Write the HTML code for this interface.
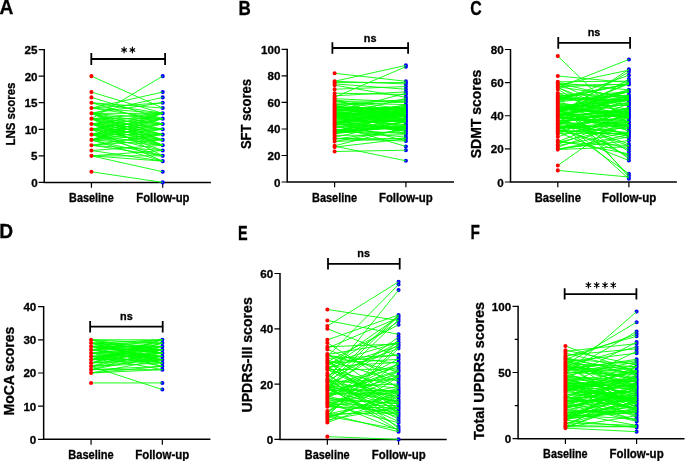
<!DOCTYPE html><html><head><meta charset="utf-8"><style>html,body{margin:0;padding:0;background:#fff;width:685px;height:461px;overflow:hidden}svg{display:block;will-change:transform}text{font-family:'Liberation Sans', sans-serif;font-weight:bold;fill:#000;stroke:#000;stroke-width:0.3px}</style></head><body>
<svg width="685" height="461" viewBox="0 0 685 461">
<path d="M44.26 49.0V182.4H210.9" stroke="#000" stroke-width="1.5" fill="none"/>
<path d="M38.66 182.40H44.26M38.66 155.84H44.26M38.66 129.28H44.26M38.66 102.72H44.26M38.66 76.16H44.26M38.66 49.60H44.26M91.44 182.4V187.70000000000002M162.72 182.4V187.70000000000002" stroke="#000" stroke-width="1.2" fill="none"/>
<path d="M160.67 182.40a2.05 2.05 0 1 0 4.1 0a2.05 2.05 0 1 0 -4.1 0M160.67 171.78a2.05 2.05 0 1 0 4.1 0a2.05 2.05 0 1 0 -4.1 0M160.67 161.15a2.05 2.05 0 1 0 4.1 0a2.05 2.05 0 1 0 -4.1 0M160.67 155.84a2.05 2.05 0 1 0 4.1 0a2.05 2.05 0 1 0 -4.1 0M160.67 150.53a2.05 2.05 0 1 0 4.1 0a2.05 2.05 0 1 0 -4.1 0M160.67 145.22a2.05 2.05 0 1 0 4.1 0a2.05 2.05 0 1 0 -4.1 0M160.67 139.90a2.05 2.05 0 1 0 4.1 0a2.05 2.05 0 1 0 -4.1 0M160.67 134.59a2.05 2.05 0 1 0 4.1 0a2.05 2.05 0 1 0 -4.1 0M160.67 129.28a2.05 2.05 0 1 0 4.1 0a2.05 2.05 0 1 0 -4.1 0M160.67 123.97a2.05 2.05 0 1 0 4.1 0a2.05 2.05 0 1 0 -4.1 0M160.67 118.66a2.05 2.05 0 1 0 4.1 0a2.05 2.05 0 1 0 -4.1 0M160.67 113.34a2.05 2.05 0 1 0 4.1 0a2.05 2.05 0 1 0 -4.1 0M160.67 108.03a2.05 2.05 0 1 0 4.1 0a2.05 2.05 0 1 0 -4.1 0M160.67 102.72a2.05 2.05 0 1 0 4.1 0a2.05 2.05 0 1 0 -4.1 0M160.67 97.41a2.05 2.05 0 1 0 4.1 0a2.05 2.05 0 1 0 -4.1 0M160.67 92.10a2.05 2.05 0 1 0 4.1 0a2.05 2.05 0 1 0 -4.1 0M160.67 76.16a2.05 2.05 0 1 0 4.1 0a2.05 2.05 0 1 0 -4.1 0" fill="#0000ff"/>
<path d="M91.4 139.90L162.7 145.22M91.4 139.90L162.7 139.90M91.4 139.90L162.7 134.59M91.4 139.90L162.7 129.28M91.4 139.90L162.7 123.97M91.4 139.90L162.7 118.66M91.4 139.90L162.7 113.34M91.4 134.59L162.7 145.22M91.4 134.59L162.7 139.90M91.4 134.59L162.7 134.59M91.4 134.59L162.7 129.28M91.4 134.59L162.7 123.97M91.4 134.59L162.7 118.66M91.4 134.59L162.7 113.34M91.4 129.28L162.7 145.22M91.4 129.28L162.7 139.90M91.4 129.28L162.7 134.59M91.4 129.28L162.7 129.28M91.4 129.28L162.7 123.97M91.4 129.28L162.7 118.66M91.4 129.28L162.7 113.34M91.4 123.97L162.7 145.22M91.4 123.97L162.7 139.90M91.4 123.97L162.7 134.59M91.4 123.97L162.7 129.28M91.4 123.97L162.7 123.97M91.4 123.97L162.7 118.66M91.4 123.97L162.7 113.34M91.4 118.66L162.7 145.22M91.4 118.66L162.7 139.90M91.4 118.66L162.7 134.59M91.4 118.66L162.7 129.28M91.4 118.66L162.7 123.97M91.4 118.66L162.7 118.66M91.4 118.66L162.7 113.34M91.4 113.34L162.7 145.22M91.4 113.34L162.7 139.90M91.4 113.34L162.7 134.59M91.4 113.34L162.7 129.28M91.4 113.34L162.7 123.97M91.4 113.34L162.7 118.66M91.4 113.34L162.7 113.34M91.4 76.16L162.7 108.03M91.4 118.66L162.7 76.16M91.4 92.10L162.7 113.34M91.4 97.41L162.7 118.66M91.4 102.72L162.7 108.03M91.4 102.72L162.7 113.34M91.4 108.03L162.7 92.10M91.4 113.34L162.7 97.41M91.4 108.03L162.7 102.72M91.4 113.34L162.7 102.72M91.4 108.03L162.7 118.66M91.4 108.03L162.7 113.34M91.4 102.72L162.7 123.97M91.4 118.66L162.7 155.84M91.4 123.97L162.7 150.53M91.4 129.28L162.7 161.15M91.4 134.59L162.7 155.84M91.4 139.90L162.7 155.84M91.4 145.22L162.7 150.53M91.4 145.22L162.7 155.84M91.4 145.22L162.7 139.90M91.4 145.22L162.7 134.59M91.4 150.53L162.7 145.22M91.4 150.53L162.7 161.15M91.4 155.84L162.7 161.15M91.4 155.84L162.7 155.84M91.4 155.84L162.7 150.53M91.4 155.84L162.7 171.78M91.4 171.78L162.7 182.40M91.4 134.59L162.7 150.53M91.4 139.90L162.7 161.15" stroke="#00ff00" stroke-width="0.9" fill="none"/>
<path d="M89.39 171.78a2.05 2.05 0 1 0 4.1 0a2.05 2.05 0 1 0 -4.1 0M89.39 155.84a2.05 2.05 0 1 0 4.1 0a2.05 2.05 0 1 0 -4.1 0M89.39 150.53a2.05 2.05 0 1 0 4.1 0a2.05 2.05 0 1 0 -4.1 0M89.39 145.22a2.05 2.05 0 1 0 4.1 0a2.05 2.05 0 1 0 -4.1 0M89.39 139.90a2.05 2.05 0 1 0 4.1 0a2.05 2.05 0 1 0 -4.1 0M89.39 134.59a2.05 2.05 0 1 0 4.1 0a2.05 2.05 0 1 0 -4.1 0M89.39 129.28a2.05 2.05 0 1 0 4.1 0a2.05 2.05 0 1 0 -4.1 0M89.39 123.97a2.05 2.05 0 1 0 4.1 0a2.05 2.05 0 1 0 -4.1 0M89.39 118.66a2.05 2.05 0 1 0 4.1 0a2.05 2.05 0 1 0 -4.1 0M89.39 113.34a2.05 2.05 0 1 0 4.1 0a2.05 2.05 0 1 0 -4.1 0M89.39 108.03a2.05 2.05 0 1 0 4.1 0a2.05 2.05 0 1 0 -4.1 0M89.39 102.72a2.05 2.05 0 1 0 4.1 0a2.05 2.05 0 1 0 -4.1 0M89.39 97.41a2.05 2.05 0 1 0 4.1 0a2.05 2.05 0 1 0 -4.1 0M89.39 92.10a2.05 2.05 0 1 0 4.1 0a2.05 2.05 0 1 0 -4.1 0M89.39 76.16a2.05 2.05 0 1 0 4.1 0a2.05 2.05 0 1 0 -4.1 0" fill="#ff0000"/>
<text x="31.13" y="186.90" font-size="11.6">0</text>
<text x="30.98" y="160.34" font-size="11.6">5</text>
<text x="24.68" y="133.78" font-size="11.6">10</text>
<text x="24.53" y="107.22" font-size="11.6">15</text>
<text x="24.68" y="80.66" font-size="11.6">20</text>
<text x="24.53" y="54.10" font-size="11.6">25</text>
<text x="69.07" y="201.90" font-size="12.00" textLength="44.60" lengthAdjust="spacingAndGlyphs">Baseline</text>
<text x="136.25" y="201.90" font-size="12.00" textLength="53.22" lengthAdjust="spacingAndGlyphs">Follow-up</text>
<path d="M91.3 59.0H165.1M91.3 53.1V64.9M165.1 53.1V64.9" stroke="#000" stroke-width="1.8" fill="none"/>
<path d="M124.10 52.85L124.10 47.15M121.83 51.31L126.37 48.69M126.37 51.31L121.83 48.69M132.40 52.85L132.40 47.15M130.13 51.31L134.67 48.69M134.67 51.31L130.13 48.69" stroke="#000" stroke-width="1.15" stroke-linecap="round" fill="none"/>
<path d="M122.90 50.0a1.2 1.2 0 1 0 2.4 0a1.2 1.2 0 1 0 -2.4 0M131.20 50.0a1.2 1.2 0 1 0 2.4 0a1.2 1.2 0 1 0 -2.4 0" fill="#000"/>
<text transform="translate(15.10 145.57) rotate(-90)" x="0" y="0" font-size="13.08" textLength="63.04" lengthAdjust="spacingAndGlyphs">LNS scores</text>
<text x="-0.48" y="14.00" font-size="20.60" textLength="13.89" lengthAdjust="spacingAndGlyphs">A</text>
<path d="M287.2 48.85V182.0H454" stroke="#000" stroke-width="1.5" fill="none"/>
<path d="M281.59999999999997 182.00H287.2M281.59999999999997 155.49H287.2M281.59999999999997 128.98H287.2M281.59999999999997 102.47H287.2M281.59999999999997 75.96H287.2M281.59999999999997 49.45H287.2M334.6 182.0V187.3M405.9 182.0V187.3" stroke="#000" stroke-width="1.2" fill="none"/>
<path d="M403.85 160.79a2.05 2.05 0 1 0 4.1 0a2.05 2.05 0 1 0 -4.1 0M403.85 150.19a2.05 2.05 0 1 0 4.1 0a2.05 2.05 0 1 0 -4.1 0M403.85 146.44a2.05 2.05 0 1 0 4.1 0a2.05 2.05 0 1 0 -4.1 0M403.85 141.05a2.05 2.05 0 1 0 4.1 0a2.05 2.05 0 1 0 -4.1 0M403.85 140.98a2.05 2.05 0 1 0 4.1 0a2.05 2.05 0 1 0 -4.1 0M403.85 138.84a2.05 2.05 0 1 0 4.1 0a2.05 2.05 0 1 0 -4.1 0M403.85 138.74a2.05 2.05 0 1 0 4.1 0a2.05 2.05 0 1 0 -4.1 0M403.85 138.08a2.05 2.05 0 1 0 4.1 0a2.05 2.05 0 1 0 -4.1 0M403.85 137.14a2.05 2.05 0 1 0 4.1 0a2.05 2.05 0 1 0 -4.1 0M403.85 134.80a2.05 2.05 0 1 0 4.1 0a2.05 2.05 0 1 0 -4.1 0M403.85 133.71a2.05 2.05 0 1 0 4.1 0a2.05 2.05 0 1 0 -4.1 0M403.85 133.49a2.05 2.05 0 1 0 4.1 0a2.05 2.05 0 1 0 -4.1 0M403.85 132.78a2.05 2.05 0 1 0 4.1 0a2.05 2.05 0 1 0 -4.1 0M403.85 131.66a2.05 2.05 0 1 0 4.1 0a2.05 2.05 0 1 0 -4.1 0M403.85 131.31a2.05 2.05 0 1 0 4.1 0a2.05 2.05 0 1 0 -4.1 0M403.85 129.91a2.05 2.05 0 1 0 4.1 0a2.05 2.05 0 1 0 -4.1 0M403.85 129.61a2.05 2.05 0 1 0 4.1 0a2.05 2.05 0 1 0 -4.1 0M403.85 129.51a2.05 2.05 0 1 0 4.1 0a2.05 2.05 0 1 0 -4.1 0M403.85 129.49a2.05 2.05 0 1 0 4.1 0a2.05 2.05 0 1 0 -4.1 0M403.85 129.07a2.05 2.05 0 1 0 4.1 0a2.05 2.05 0 1 0 -4.1 0M403.85 128.88a2.05 2.05 0 1 0 4.1 0a2.05 2.05 0 1 0 -4.1 0M403.85 128.05a2.05 2.05 0 1 0 4.1 0a2.05 2.05 0 1 0 -4.1 0M403.85 127.97a2.05 2.05 0 1 0 4.1 0a2.05 2.05 0 1 0 -4.1 0M403.85 127.97a2.05 2.05 0 1 0 4.1 0a2.05 2.05 0 1 0 -4.1 0M403.85 127.18a2.05 2.05 0 1 0 4.1 0a2.05 2.05 0 1 0 -4.1 0M403.85 127.07a2.05 2.05 0 1 0 4.1 0a2.05 2.05 0 1 0 -4.1 0M403.85 126.95a2.05 2.05 0 1 0 4.1 0a2.05 2.05 0 1 0 -4.1 0M403.85 126.94a2.05 2.05 0 1 0 4.1 0a2.05 2.05 0 1 0 -4.1 0M403.85 126.45a2.05 2.05 0 1 0 4.1 0a2.05 2.05 0 1 0 -4.1 0M403.85 126.33a2.05 2.05 0 1 0 4.1 0a2.05 2.05 0 1 0 -4.1 0M403.85 125.59a2.05 2.05 0 1 0 4.1 0a2.05 2.05 0 1 0 -4.1 0M403.85 125.30a2.05 2.05 0 1 0 4.1 0a2.05 2.05 0 1 0 -4.1 0M403.85 124.76a2.05 2.05 0 1 0 4.1 0a2.05 2.05 0 1 0 -4.1 0M403.85 123.12a2.05 2.05 0 1 0 4.1 0a2.05 2.05 0 1 0 -4.1 0M403.85 121.91a2.05 2.05 0 1 0 4.1 0a2.05 2.05 0 1 0 -4.1 0M403.85 121.88a2.05 2.05 0 1 0 4.1 0a2.05 2.05 0 1 0 -4.1 0M403.85 121.88a2.05 2.05 0 1 0 4.1 0a2.05 2.05 0 1 0 -4.1 0M403.85 121.55a2.05 2.05 0 1 0 4.1 0a2.05 2.05 0 1 0 -4.1 0M403.85 121.35a2.05 2.05 0 1 0 4.1 0a2.05 2.05 0 1 0 -4.1 0M403.85 121.35a2.05 2.05 0 1 0 4.1 0a2.05 2.05 0 1 0 -4.1 0M403.85 121.25a2.05 2.05 0 1 0 4.1 0a2.05 2.05 0 1 0 -4.1 0M403.85 121.16a2.05 2.05 0 1 0 4.1 0a2.05 2.05 0 1 0 -4.1 0M403.85 120.74a2.05 2.05 0 1 0 4.1 0a2.05 2.05 0 1 0 -4.1 0M403.85 120.68a2.05 2.05 0 1 0 4.1 0a2.05 2.05 0 1 0 -4.1 0M403.85 120.64a2.05 2.05 0 1 0 4.1 0a2.05 2.05 0 1 0 -4.1 0M403.85 120.35a2.05 2.05 0 1 0 4.1 0a2.05 2.05 0 1 0 -4.1 0M403.85 120.19a2.05 2.05 0 1 0 4.1 0a2.05 2.05 0 1 0 -4.1 0M403.85 119.29a2.05 2.05 0 1 0 4.1 0a2.05 2.05 0 1 0 -4.1 0M403.85 119.17a2.05 2.05 0 1 0 4.1 0a2.05 2.05 0 1 0 -4.1 0M403.85 118.49a2.05 2.05 0 1 0 4.1 0a2.05 2.05 0 1 0 -4.1 0M403.85 118.27a2.05 2.05 0 1 0 4.1 0a2.05 2.05 0 1 0 -4.1 0M403.85 117.69a2.05 2.05 0 1 0 4.1 0a2.05 2.05 0 1 0 -4.1 0M403.85 117.00a2.05 2.05 0 1 0 4.1 0a2.05 2.05 0 1 0 -4.1 0M403.85 116.64a2.05 2.05 0 1 0 4.1 0a2.05 2.05 0 1 0 -4.1 0M403.85 116.39a2.05 2.05 0 1 0 4.1 0a2.05 2.05 0 1 0 -4.1 0M403.85 116.34a2.05 2.05 0 1 0 4.1 0a2.05 2.05 0 1 0 -4.1 0M403.85 116.09a2.05 2.05 0 1 0 4.1 0a2.05 2.05 0 1 0 -4.1 0M403.85 115.19a2.05 2.05 0 1 0 4.1 0a2.05 2.05 0 1 0 -4.1 0M403.85 114.47a2.05 2.05 0 1 0 4.1 0a2.05 2.05 0 1 0 -4.1 0M403.85 114.36a2.05 2.05 0 1 0 4.1 0a2.05 2.05 0 1 0 -4.1 0M403.85 114.09a2.05 2.05 0 1 0 4.1 0a2.05 2.05 0 1 0 -4.1 0M403.85 113.84a2.05 2.05 0 1 0 4.1 0a2.05 2.05 0 1 0 -4.1 0M403.85 113.33a2.05 2.05 0 1 0 4.1 0a2.05 2.05 0 1 0 -4.1 0M403.85 113.19a2.05 2.05 0 1 0 4.1 0a2.05 2.05 0 1 0 -4.1 0M403.85 113.18a2.05 2.05 0 1 0 4.1 0a2.05 2.05 0 1 0 -4.1 0M403.85 113.00a2.05 2.05 0 1 0 4.1 0a2.05 2.05 0 1 0 -4.1 0M403.85 112.77a2.05 2.05 0 1 0 4.1 0a2.05 2.05 0 1 0 -4.1 0M403.85 112.72a2.05 2.05 0 1 0 4.1 0a2.05 2.05 0 1 0 -4.1 0M403.85 112.46a2.05 2.05 0 1 0 4.1 0a2.05 2.05 0 1 0 -4.1 0M403.85 112.08a2.05 2.05 0 1 0 4.1 0a2.05 2.05 0 1 0 -4.1 0M403.85 111.98a2.05 2.05 0 1 0 4.1 0a2.05 2.05 0 1 0 -4.1 0M403.85 111.86a2.05 2.05 0 1 0 4.1 0a2.05 2.05 0 1 0 -4.1 0M403.85 111.73a2.05 2.05 0 1 0 4.1 0a2.05 2.05 0 1 0 -4.1 0M403.85 111.60a2.05 2.05 0 1 0 4.1 0a2.05 2.05 0 1 0 -4.1 0M403.85 111.55a2.05 2.05 0 1 0 4.1 0a2.05 2.05 0 1 0 -4.1 0M403.85 111.02a2.05 2.05 0 1 0 4.1 0a2.05 2.05 0 1 0 -4.1 0M403.85 110.95a2.05 2.05 0 1 0 4.1 0a2.05 2.05 0 1 0 -4.1 0M403.85 110.80a2.05 2.05 0 1 0 4.1 0a2.05 2.05 0 1 0 -4.1 0M403.85 110.68a2.05 2.05 0 1 0 4.1 0a2.05 2.05 0 1 0 -4.1 0M403.85 110.49a2.05 2.05 0 1 0 4.1 0a2.05 2.05 0 1 0 -4.1 0M403.85 110.07a2.05 2.05 0 1 0 4.1 0a2.05 2.05 0 1 0 -4.1 0M403.85 109.63a2.05 2.05 0 1 0 4.1 0a2.05 2.05 0 1 0 -4.1 0M403.85 109.56a2.05 2.05 0 1 0 4.1 0a2.05 2.05 0 1 0 -4.1 0M403.85 109.35a2.05 2.05 0 1 0 4.1 0a2.05 2.05 0 1 0 -4.1 0M403.85 109.19a2.05 2.05 0 1 0 4.1 0a2.05 2.05 0 1 0 -4.1 0M403.85 108.94a2.05 2.05 0 1 0 4.1 0a2.05 2.05 0 1 0 -4.1 0M403.85 108.28a2.05 2.05 0 1 0 4.1 0a2.05 2.05 0 1 0 -4.1 0M403.85 108.17a2.05 2.05 0 1 0 4.1 0a2.05 2.05 0 1 0 -4.1 0M403.85 107.93a2.05 2.05 0 1 0 4.1 0a2.05 2.05 0 1 0 -4.1 0M403.85 107.77a2.05 2.05 0 1 0 4.1 0a2.05 2.05 0 1 0 -4.1 0M403.85 107.36a2.05 2.05 0 1 0 4.1 0a2.05 2.05 0 1 0 -4.1 0M403.85 106.63a2.05 2.05 0 1 0 4.1 0a2.05 2.05 0 1 0 -4.1 0M403.85 106.28a2.05 2.05 0 1 0 4.1 0a2.05 2.05 0 1 0 -4.1 0M403.85 105.23a2.05 2.05 0 1 0 4.1 0a2.05 2.05 0 1 0 -4.1 0M403.85 104.97a2.05 2.05 0 1 0 4.1 0a2.05 2.05 0 1 0 -4.1 0M403.85 104.56a2.05 2.05 0 1 0 4.1 0a2.05 2.05 0 1 0 -4.1 0M403.85 102.07a2.05 2.05 0 1 0 4.1 0a2.05 2.05 0 1 0 -4.1 0M403.85 101.95a2.05 2.05 0 1 0 4.1 0a2.05 2.05 0 1 0 -4.1 0M403.85 101.00a2.05 2.05 0 1 0 4.1 0a2.05 2.05 0 1 0 -4.1 0M403.85 99.62a2.05 2.05 0 1 0 4.1 0a2.05 2.05 0 1 0 -4.1 0M403.85 98.35a2.05 2.05 0 1 0 4.1 0a2.05 2.05 0 1 0 -4.1 0M403.85 97.17a2.05 2.05 0 1 0 4.1 0a2.05 2.05 0 1 0 -4.1 0M403.85 94.52a2.05 2.05 0 1 0 4.1 0a2.05 2.05 0 1 0 -4.1 0M403.85 93.30a2.05 2.05 0 1 0 4.1 0a2.05 2.05 0 1 0 -4.1 0M403.85 91.87a2.05 2.05 0 1 0 4.1 0a2.05 2.05 0 1 0 -4.1 0M403.85 89.22a2.05 2.05 0 1 0 4.1 0a2.05 2.05 0 1 0 -4.1 0M403.85 86.56a2.05 2.05 0 1 0 4.1 0a2.05 2.05 0 1 0 -4.1 0M403.85 83.91a2.05 2.05 0 1 0 4.1 0a2.05 2.05 0 1 0 -4.1 0M403.85 82.59a2.05 2.05 0 1 0 4.1 0a2.05 2.05 0 1 0 -4.1 0M403.85 81.26a2.05 2.05 0 1 0 4.1 0a2.05 2.05 0 1 0 -4.1 0M403.85 66.68a2.05 2.05 0 1 0 4.1 0a2.05 2.05 0 1 0 -4.1 0M403.85 65.36a2.05 2.05 0 1 0 4.1 0a2.05 2.05 0 1 0 -4.1 0" fill="#0000ff"/>
<path d="M334.6 117.07L405.9 121.35M334.6 125.45L405.9 146.44M334.6 124.23L405.9 114.47M334.6 115.79L405.9 120.64M334.6 106.10L405.9 110.68M334.6 124.28L405.9 129.61M334.6 113.37L405.9 114.36M334.6 112.11L405.9 118.27M334.6 117.94L405.9 125.59M334.6 107.99L405.9 107.36M334.6 115.10L405.9 110.80M334.6 133.77L405.9 121.88M334.6 107.99L405.9 107.93M334.6 104.69L405.9 99.62M334.6 116.77L405.9 113.33M334.6 122.06L405.9 111.86M334.6 135.42L405.9 134.80M334.6 116.32L405.9 98.35M334.6 130.34L405.9 137.14M334.6 127.54L405.9 115.19M334.6 122.97L405.9 108.17M334.6 145.76L405.9 127.97M334.6 105.30L405.9 120.74M334.6 117.56L405.9 104.97M334.6 118.48L405.9 107.77M334.6 123.60L405.9 128.88M334.6 110.68L405.9 113.19M334.6 122.19L405.9 121.35M334.6 110.66L405.9 121.55M334.6 103.02L405.9 104.56M334.6 98.68L405.9 101.95M334.6 130.03L405.9 121.88M334.6 120.77L405.9 131.31M334.6 132.02L405.9 111.02M334.6 114.77L405.9 110.49M334.6 123.55L405.9 128.05M334.6 107.29L405.9 109.63M334.6 130.27L405.9 127.97M334.6 132.31L405.9 126.45M334.6 103.99L405.9 114.09M334.6 99.82L405.9 109.19M334.6 117.57L405.9 124.76M334.6 122.79L405.9 120.35M334.6 125.75L405.9 129.91M334.6 129.14L405.9 133.71M334.6 141.55L405.9 138.08M334.6 114.12L405.9 105.23M334.6 115.27L405.9 119.29M334.6 106.22L405.9 117.00M334.6 114.77L405.9 133.49M334.6 107.19L405.9 110.07M334.6 133.17L405.9 112.77M334.6 109.05L405.9 109.56M334.6 130.08L405.9 126.95M334.6 121.98L405.9 113.18M334.6 108.59L405.9 116.09M334.6 127.35L405.9 129.51M334.6 138.48L405.9 138.84M334.6 120.99L405.9 112.72M334.6 101.32L405.9 111.73M334.6 112.03L405.9 116.64M334.6 112.71L405.9 121.91M334.6 130.98L405.9 125.30M334.6 125.05L405.9 119.17M334.6 141.44L405.9 129.07M334.6 132.22L405.9 111.60M334.6 123.72L405.9 110.95M334.6 139.12L405.9 129.49M334.6 132.06L405.9 132.78M334.6 119.36L405.9 121.16M334.6 116.02L405.9 108.28M334.6 110.62L405.9 112.08M334.6 138.68L405.9 141.05M334.6 122.43L405.9 140.98M334.6 109.23L405.9 112.46M334.6 123.20L405.9 111.98M334.6 110.41L405.9 108.94M334.6 133.64L405.9 126.33M334.6 114.88L405.9 123.12M334.6 105.18L405.9 102.07M334.6 147.11L405.9 138.74M334.6 137.30L405.9 121.25M334.6 108.47L405.9 120.19M334.6 132.02L405.9 127.07M334.6 123.03L405.9 106.28M334.6 109.39L405.9 113.00M334.6 111.67L405.9 131.66M334.6 115.39L405.9 106.63M334.6 122.19L405.9 127.18M334.6 111.83L405.9 93.30M334.6 116.85L405.9 126.94M334.6 99.58L405.9 120.68M334.6 112.70L405.9 118.49M334.6 106.75L405.9 116.39M334.6 101.28L405.9 101.00M334.6 124.10L405.9 109.35M334.6 117.93L405.9 116.34M334.6 122.98L405.9 113.84M334.6 114.45L405.9 111.55M334.6 133.41L405.9 117.69M334.6 73.31L405.9 81.26M334.6 81.26L405.9 65.36M334.6 97.17L405.9 66.68M334.6 82.59L405.9 82.59M334.6 83.91L405.9 89.22M334.6 89.22L405.9 86.56M334.6 93.19L405.9 94.52M334.6 95.84L405.9 91.87M334.6 151.51L405.9 150.19M334.6 146.21L405.9 160.79M334.6 85.24L405.9 97.17M334.6 81.26L405.9 83.91" stroke="#00ff00" stroke-width="0.9" fill="none"/>
<path d="M332.55 151.51a2.05 2.05 0 1 0 4.1 0a2.05 2.05 0 1 0 -4.1 0M332.55 147.11a2.05 2.05 0 1 0 4.1 0a2.05 2.05 0 1 0 -4.1 0M332.55 146.21a2.05 2.05 0 1 0 4.1 0a2.05 2.05 0 1 0 -4.1 0M332.55 145.76a2.05 2.05 0 1 0 4.1 0a2.05 2.05 0 1 0 -4.1 0M332.55 141.55a2.05 2.05 0 1 0 4.1 0a2.05 2.05 0 1 0 -4.1 0M332.55 141.44a2.05 2.05 0 1 0 4.1 0a2.05 2.05 0 1 0 -4.1 0M332.55 139.12a2.05 2.05 0 1 0 4.1 0a2.05 2.05 0 1 0 -4.1 0M332.55 138.68a2.05 2.05 0 1 0 4.1 0a2.05 2.05 0 1 0 -4.1 0M332.55 138.48a2.05 2.05 0 1 0 4.1 0a2.05 2.05 0 1 0 -4.1 0M332.55 137.30a2.05 2.05 0 1 0 4.1 0a2.05 2.05 0 1 0 -4.1 0M332.55 135.42a2.05 2.05 0 1 0 4.1 0a2.05 2.05 0 1 0 -4.1 0M332.55 133.77a2.05 2.05 0 1 0 4.1 0a2.05 2.05 0 1 0 -4.1 0M332.55 133.64a2.05 2.05 0 1 0 4.1 0a2.05 2.05 0 1 0 -4.1 0M332.55 133.41a2.05 2.05 0 1 0 4.1 0a2.05 2.05 0 1 0 -4.1 0M332.55 133.17a2.05 2.05 0 1 0 4.1 0a2.05 2.05 0 1 0 -4.1 0M332.55 132.31a2.05 2.05 0 1 0 4.1 0a2.05 2.05 0 1 0 -4.1 0M332.55 132.22a2.05 2.05 0 1 0 4.1 0a2.05 2.05 0 1 0 -4.1 0M332.55 132.06a2.05 2.05 0 1 0 4.1 0a2.05 2.05 0 1 0 -4.1 0M332.55 132.02a2.05 2.05 0 1 0 4.1 0a2.05 2.05 0 1 0 -4.1 0M332.55 132.02a2.05 2.05 0 1 0 4.1 0a2.05 2.05 0 1 0 -4.1 0M332.55 130.98a2.05 2.05 0 1 0 4.1 0a2.05 2.05 0 1 0 -4.1 0M332.55 130.34a2.05 2.05 0 1 0 4.1 0a2.05 2.05 0 1 0 -4.1 0M332.55 130.27a2.05 2.05 0 1 0 4.1 0a2.05 2.05 0 1 0 -4.1 0M332.55 130.08a2.05 2.05 0 1 0 4.1 0a2.05 2.05 0 1 0 -4.1 0M332.55 130.03a2.05 2.05 0 1 0 4.1 0a2.05 2.05 0 1 0 -4.1 0M332.55 129.14a2.05 2.05 0 1 0 4.1 0a2.05 2.05 0 1 0 -4.1 0M332.55 127.54a2.05 2.05 0 1 0 4.1 0a2.05 2.05 0 1 0 -4.1 0M332.55 127.35a2.05 2.05 0 1 0 4.1 0a2.05 2.05 0 1 0 -4.1 0M332.55 125.75a2.05 2.05 0 1 0 4.1 0a2.05 2.05 0 1 0 -4.1 0M332.55 125.45a2.05 2.05 0 1 0 4.1 0a2.05 2.05 0 1 0 -4.1 0M332.55 125.05a2.05 2.05 0 1 0 4.1 0a2.05 2.05 0 1 0 -4.1 0M332.55 124.28a2.05 2.05 0 1 0 4.1 0a2.05 2.05 0 1 0 -4.1 0M332.55 124.23a2.05 2.05 0 1 0 4.1 0a2.05 2.05 0 1 0 -4.1 0M332.55 124.10a2.05 2.05 0 1 0 4.1 0a2.05 2.05 0 1 0 -4.1 0M332.55 123.72a2.05 2.05 0 1 0 4.1 0a2.05 2.05 0 1 0 -4.1 0M332.55 123.60a2.05 2.05 0 1 0 4.1 0a2.05 2.05 0 1 0 -4.1 0M332.55 123.55a2.05 2.05 0 1 0 4.1 0a2.05 2.05 0 1 0 -4.1 0M332.55 123.20a2.05 2.05 0 1 0 4.1 0a2.05 2.05 0 1 0 -4.1 0M332.55 123.03a2.05 2.05 0 1 0 4.1 0a2.05 2.05 0 1 0 -4.1 0M332.55 122.98a2.05 2.05 0 1 0 4.1 0a2.05 2.05 0 1 0 -4.1 0M332.55 122.97a2.05 2.05 0 1 0 4.1 0a2.05 2.05 0 1 0 -4.1 0M332.55 122.79a2.05 2.05 0 1 0 4.1 0a2.05 2.05 0 1 0 -4.1 0M332.55 122.43a2.05 2.05 0 1 0 4.1 0a2.05 2.05 0 1 0 -4.1 0M332.55 122.19a2.05 2.05 0 1 0 4.1 0a2.05 2.05 0 1 0 -4.1 0M332.55 122.19a2.05 2.05 0 1 0 4.1 0a2.05 2.05 0 1 0 -4.1 0M332.55 122.06a2.05 2.05 0 1 0 4.1 0a2.05 2.05 0 1 0 -4.1 0M332.55 121.98a2.05 2.05 0 1 0 4.1 0a2.05 2.05 0 1 0 -4.1 0M332.55 120.99a2.05 2.05 0 1 0 4.1 0a2.05 2.05 0 1 0 -4.1 0M332.55 120.77a2.05 2.05 0 1 0 4.1 0a2.05 2.05 0 1 0 -4.1 0M332.55 119.36a2.05 2.05 0 1 0 4.1 0a2.05 2.05 0 1 0 -4.1 0M332.55 118.48a2.05 2.05 0 1 0 4.1 0a2.05 2.05 0 1 0 -4.1 0M332.55 117.94a2.05 2.05 0 1 0 4.1 0a2.05 2.05 0 1 0 -4.1 0M332.55 117.93a2.05 2.05 0 1 0 4.1 0a2.05 2.05 0 1 0 -4.1 0M332.55 117.57a2.05 2.05 0 1 0 4.1 0a2.05 2.05 0 1 0 -4.1 0M332.55 117.56a2.05 2.05 0 1 0 4.1 0a2.05 2.05 0 1 0 -4.1 0M332.55 117.07a2.05 2.05 0 1 0 4.1 0a2.05 2.05 0 1 0 -4.1 0M332.55 116.85a2.05 2.05 0 1 0 4.1 0a2.05 2.05 0 1 0 -4.1 0M332.55 116.77a2.05 2.05 0 1 0 4.1 0a2.05 2.05 0 1 0 -4.1 0M332.55 116.32a2.05 2.05 0 1 0 4.1 0a2.05 2.05 0 1 0 -4.1 0M332.55 116.02a2.05 2.05 0 1 0 4.1 0a2.05 2.05 0 1 0 -4.1 0M332.55 115.79a2.05 2.05 0 1 0 4.1 0a2.05 2.05 0 1 0 -4.1 0M332.55 115.39a2.05 2.05 0 1 0 4.1 0a2.05 2.05 0 1 0 -4.1 0M332.55 115.27a2.05 2.05 0 1 0 4.1 0a2.05 2.05 0 1 0 -4.1 0M332.55 115.10a2.05 2.05 0 1 0 4.1 0a2.05 2.05 0 1 0 -4.1 0M332.55 114.88a2.05 2.05 0 1 0 4.1 0a2.05 2.05 0 1 0 -4.1 0M332.55 114.77a2.05 2.05 0 1 0 4.1 0a2.05 2.05 0 1 0 -4.1 0M332.55 114.77a2.05 2.05 0 1 0 4.1 0a2.05 2.05 0 1 0 -4.1 0M332.55 114.45a2.05 2.05 0 1 0 4.1 0a2.05 2.05 0 1 0 -4.1 0M332.55 114.12a2.05 2.05 0 1 0 4.1 0a2.05 2.05 0 1 0 -4.1 0M332.55 113.37a2.05 2.05 0 1 0 4.1 0a2.05 2.05 0 1 0 -4.1 0M332.55 112.71a2.05 2.05 0 1 0 4.1 0a2.05 2.05 0 1 0 -4.1 0M332.55 112.70a2.05 2.05 0 1 0 4.1 0a2.05 2.05 0 1 0 -4.1 0M332.55 112.11a2.05 2.05 0 1 0 4.1 0a2.05 2.05 0 1 0 -4.1 0M332.55 112.03a2.05 2.05 0 1 0 4.1 0a2.05 2.05 0 1 0 -4.1 0M332.55 111.83a2.05 2.05 0 1 0 4.1 0a2.05 2.05 0 1 0 -4.1 0M332.55 111.67a2.05 2.05 0 1 0 4.1 0a2.05 2.05 0 1 0 -4.1 0M332.55 110.68a2.05 2.05 0 1 0 4.1 0a2.05 2.05 0 1 0 -4.1 0M332.55 110.66a2.05 2.05 0 1 0 4.1 0a2.05 2.05 0 1 0 -4.1 0M332.55 110.62a2.05 2.05 0 1 0 4.1 0a2.05 2.05 0 1 0 -4.1 0M332.55 110.41a2.05 2.05 0 1 0 4.1 0a2.05 2.05 0 1 0 -4.1 0M332.55 109.39a2.05 2.05 0 1 0 4.1 0a2.05 2.05 0 1 0 -4.1 0M332.55 109.23a2.05 2.05 0 1 0 4.1 0a2.05 2.05 0 1 0 -4.1 0M332.55 109.05a2.05 2.05 0 1 0 4.1 0a2.05 2.05 0 1 0 -4.1 0M332.55 108.59a2.05 2.05 0 1 0 4.1 0a2.05 2.05 0 1 0 -4.1 0M332.55 108.47a2.05 2.05 0 1 0 4.1 0a2.05 2.05 0 1 0 -4.1 0M332.55 107.99a2.05 2.05 0 1 0 4.1 0a2.05 2.05 0 1 0 -4.1 0M332.55 107.99a2.05 2.05 0 1 0 4.1 0a2.05 2.05 0 1 0 -4.1 0M332.55 107.29a2.05 2.05 0 1 0 4.1 0a2.05 2.05 0 1 0 -4.1 0M332.55 107.19a2.05 2.05 0 1 0 4.1 0a2.05 2.05 0 1 0 -4.1 0M332.55 106.75a2.05 2.05 0 1 0 4.1 0a2.05 2.05 0 1 0 -4.1 0M332.55 106.22a2.05 2.05 0 1 0 4.1 0a2.05 2.05 0 1 0 -4.1 0M332.55 106.10a2.05 2.05 0 1 0 4.1 0a2.05 2.05 0 1 0 -4.1 0M332.55 105.30a2.05 2.05 0 1 0 4.1 0a2.05 2.05 0 1 0 -4.1 0M332.55 105.18a2.05 2.05 0 1 0 4.1 0a2.05 2.05 0 1 0 -4.1 0M332.55 104.69a2.05 2.05 0 1 0 4.1 0a2.05 2.05 0 1 0 -4.1 0M332.55 103.99a2.05 2.05 0 1 0 4.1 0a2.05 2.05 0 1 0 -4.1 0M332.55 103.02a2.05 2.05 0 1 0 4.1 0a2.05 2.05 0 1 0 -4.1 0M332.55 101.32a2.05 2.05 0 1 0 4.1 0a2.05 2.05 0 1 0 -4.1 0M332.55 101.28a2.05 2.05 0 1 0 4.1 0a2.05 2.05 0 1 0 -4.1 0M332.55 99.82a2.05 2.05 0 1 0 4.1 0a2.05 2.05 0 1 0 -4.1 0M332.55 99.58a2.05 2.05 0 1 0 4.1 0a2.05 2.05 0 1 0 -4.1 0M332.55 98.68a2.05 2.05 0 1 0 4.1 0a2.05 2.05 0 1 0 -4.1 0M332.55 97.17a2.05 2.05 0 1 0 4.1 0a2.05 2.05 0 1 0 -4.1 0M332.55 95.84a2.05 2.05 0 1 0 4.1 0a2.05 2.05 0 1 0 -4.1 0M332.55 93.19a2.05 2.05 0 1 0 4.1 0a2.05 2.05 0 1 0 -4.1 0M332.55 89.22a2.05 2.05 0 1 0 4.1 0a2.05 2.05 0 1 0 -4.1 0M332.55 85.24a2.05 2.05 0 1 0 4.1 0a2.05 2.05 0 1 0 -4.1 0M332.55 83.91a2.05 2.05 0 1 0 4.1 0a2.05 2.05 0 1 0 -4.1 0M332.55 82.59a2.05 2.05 0 1 0 4.1 0a2.05 2.05 0 1 0 -4.1 0M332.55 81.26a2.05 2.05 0 1 0 4.1 0a2.05 2.05 0 1 0 -4.1 0M332.55 73.31a2.05 2.05 0 1 0 4.1 0a2.05 2.05 0 1 0 -4.1 0" fill="#ff0000"/>
<text x="273.97" y="186.50" font-size="11.6">0</text>
<text x="267.52" y="159.99" font-size="11.6">20</text>
<text x="267.52" y="133.48" font-size="11.6">40</text>
<text x="267.52" y="106.97" font-size="11.6">60</text>
<text x="267.52" y="80.46" font-size="11.6">80</text>
<text x="261.07" y="53.95" font-size="11.6">100</text>
<text x="311.97" y="201.50" font-size="12.00" textLength="45.11" lengthAdjust="spacingAndGlyphs">Baseline</text>
<text x="378.94" y="201.50" font-size="12.00" textLength="53.83" lengthAdjust="spacingAndGlyphs">Follow-up</text>
<path d="M332.4 48.0H408.1M332.4 42.25V53.8M408.1 42.25V53.8" stroke="#000" stroke-width="1.8" fill="none"/>
<text x="363.83" y="41.60" font-size="11.50" textLength="12.66" lengthAdjust="spacingAndGlyphs">ns</text>
<text transform="translate(251.30 149.07) rotate(-90)" x="0" y="0" font-size="15.12" textLength="70.11" lengthAdjust="spacingAndGlyphs">SFT scores</text>
<text x="238.46" y="14.60" font-size="19.80" textLength="12.32" lengthAdjust="spacingAndGlyphs">B</text>
<path d="M510.5 48.9V182.0H676.9" stroke="#000" stroke-width="1.5" fill="none"/>
<path d="M504.9 182.00H510.5M504.9 148.88H510.5M504.9 115.75H510.5M504.9 82.62H510.5M504.9 49.50H510.5M557.8 182.0V187.3M628.9 182.0V187.3" stroke="#000" stroke-width="1.2" fill="none"/>
<path d="M626.85 178.69a2.05 2.05 0 1 0 4.1 0a2.05 2.05 0 1 0 -4.1 0M626.85 177.03a2.05 2.05 0 1 0 4.1 0a2.05 2.05 0 1 0 -4.1 0M626.85 175.38a2.05 2.05 0 1 0 4.1 0a2.05 2.05 0 1 0 -4.1 0M626.85 173.72a2.05 2.05 0 1 0 4.1 0a2.05 2.05 0 1 0 -4.1 0M626.85 160.47a2.05 2.05 0 1 0 4.1 0a2.05 2.05 0 1 0 -4.1 0M626.85 158.81a2.05 2.05 0 1 0 4.1 0a2.05 2.05 0 1 0 -4.1 0M626.85 157.16a2.05 2.05 0 1 0 4.1 0a2.05 2.05 0 1 0 -4.1 0M626.85 155.50a2.05 2.05 0 1 0 4.1 0a2.05 2.05 0 1 0 -4.1 0M626.85 153.84a2.05 2.05 0 1 0 4.1 0a2.05 2.05 0 1 0 -4.1 0M626.85 151.43a2.05 2.05 0 1 0 4.1 0a2.05 2.05 0 1 0 -4.1 0M626.85 149.04a2.05 2.05 0 1 0 4.1 0a2.05 2.05 0 1 0 -4.1 0M626.85 146.74a2.05 2.05 0 1 0 4.1 0a2.05 2.05 0 1 0 -4.1 0M626.85 145.79a2.05 2.05 0 1 0 4.1 0a2.05 2.05 0 1 0 -4.1 0M626.85 145.56a2.05 2.05 0 1 0 4.1 0a2.05 2.05 0 1 0 -4.1 0M626.85 144.05a2.05 2.05 0 1 0 4.1 0a2.05 2.05 0 1 0 -4.1 0M626.85 140.59a2.05 2.05 0 1 0 4.1 0a2.05 2.05 0 1 0 -4.1 0M626.85 138.33a2.05 2.05 0 1 0 4.1 0a2.05 2.05 0 1 0 -4.1 0M626.85 136.91a2.05 2.05 0 1 0 4.1 0a2.05 2.05 0 1 0 -4.1 0M626.85 136.46a2.05 2.05 0 1 0 4.1 0a2.05 2.05 0 1 0 -4.1 0M626.85 135.67a2.05 2.05 0 1 0 4.1 0a2.05 2.05 0 1 0 -4.1 0M626.85 134.85a2.05 2.05 0 1 0 4.1 0a2.05 2.05 0 1 0 -4.1 0M626.85 134.39a2.05 2.05 0 1 0 4.1 0a2.05 2.05 0 1 0 -4.1 0M626.85 134.30a2.05 2.05 0 1 0 4.1 0a2.05 2.05 0 1 0 -4.1 0M626.85 133.73a2.05 2.05 0 1 0 4.1 0a2.05 2.05 0 1 0 -4.1 0M626.85 133.71a2.05 2.05 0 1 0 4.1 0a2.05 2.05 0 1 0 -4.1 0M626.85 133.51a2.05 2.05 0 1 0 4.1 0a2.05 2.05 0 1 0 -4.1 0M626.85 132.51a2.05 2.05 0 1 0 4.1 0a2.05 2.05 0 1 0 -4.1 0M626.85 132.31a2.05 2.05 0 1 0 4.1 0a2.05 2.05 0 1 0 -4.1 0M626.85 131.74a2.05 2.05 0 1 0 4.1 0a2.05 2.05 0 1 0 -4.1 0M626.85 130.92a2.05 2.05 0 1 0 4.1 0a2.05 2.05 0 1 0 -4.1 0M626.85 128.76a2.05 2.05 0 1 0 4.1 0a2.05 2.05 0 1 0 -4.1 0M626.85 127.99a2.05 2.05 0 1 0 4.1 0a2.05 2.05 0 1 0 -4.1 0M626.85 126.76a2.05 2.05 0 1 0 4.1 0a2.05 2.05 0 1 0 -4.1 0M626.85 126.70a2.05 2.05 0 1 0 4.1 0a2.05 2.05 0 1 0 -4.1 0M626.85 126.39a2.05 2.05 0 1 0 4.1 0a2.05 2.05 0 1 0 -4.1 0M626.85 126.01a2.05 2.05 0 1 0 4.1 0a2.05 2.05 0 1 0 -4.1 0M626.85 125.62a2.05 2.05 0 1 0 4.1 0a2.05 2.05 0 1 0 -4.1 0M626.85 125.30a2.05 2.05 0 1 0 4.1 0a2.05 2.05 0 1 0 -4.1 0M626.85 125.08a2.05 2.05 0 1 0 4.1 0a2.05 2.05 0 1 0 -4.1 0M626.85 124.86a2.05 2.05 0 1 0 4.1 0a2.05 2.05 0 1 0 -4.1 0M626.85 124.66a2.05 2.05 0 1 0 4.1 0a2.05 2.05 0 1 0 -4.1 0M626.85 124.61a2.05 2.05 0 1 0 4.1 0a2.05 2.05 0 1 0 -4.1 0M626.85 122.59a2.05 2.05 0 1 0 4.1 0a2.05 2.05 0 1 0 -4.1 0M626.85 122.38a2.05 2.05 0 1 0 4.1 0a2.05 2.05 0 1 0 -4.1 0M626.85 122.31a2.05 2.05 0 1 0 4.1 0a2.05 2.05 0 1 0 -4.1 0M626.85 122.30a2.05 2.05 0 1 0 4.1 0a2.05 2.05 0 1 0 -4.1 0M626.85 122.24a2.05 2.05 0 1 0 4.1 0a2.05 2.05 0 1 0 -4.1 0M626.85 121.60a2.05 2.05 0 1 0 4.1 0a2.05 2.05 0 1 0 -4.1 0M626.85 121.32a2.05 2.05 0 1 0 4.1 0a2.05 2.05 0 1 0 -4.1 0M626.85 118.99a2.05 2.05 0 1 0 4.1 0a2.05 2.05 0 1 0 -4.1 0M626.85 118.31a2.05 2.05 0 1 0 4.1 0a2.05 2.05 0 1 0 -4.1 0M626.85 118.04a2.05 2.05 0 1 0 4.1 0a2.05 2.05 0 1 0 -4.1 0M626.85 118.01a2.05 2.05 0 1 0 4.1 0a2.05 2.05 0 1 0 -4.1 0M626.85 117.64a2.05 2.05 0 1 0 4.1 0a2.05 2.05 0 1 0 -4.1 0M626.85 117.00a2.05 2.05 0 1 0 4.1 0a2.05 2.05 0 1 0 -4.1 0M626.85 116.87a2.05 2.05 0 1 0 4.1 0a2.05 2.05 0 1 0 -4.1 0M626.85 116.40a2.05 2.05 0 1 0 4.1 0a2.05 2.05 0 1 0 -4.1 0M626.85 116.37a2.05 2.05 0 1 0 4.1 0a2.05 2.05 0 1 0 -4.1 0M626.85 115.98a2.05 2.05 0 1 0 4.1 0a2.05 2.05 0 1 0 -4.1 0M626.85 115.75a2.05 2.05 0 1 0 4.1 0a2.05 2.05 0 1 0 -4.1 0M626.85 115.73a2.05 2.05 0 1 0 4.1 0a2.05 2.05 0 1 0 -4.1 0M626.85 115.48a2.05 2.05 0 1 0 4.1 0a2.05 2.05 0 1 0 -4.1 0M626.85 115.37a2.05 2.05 0 1 0 4.1 0a2.05 2.05 0 1 0 -4.1 0M626.85 115.01a2.05 2.05 0 1 0 4.1 0a2.05 2.05 0 1 0 -4.1 0M626.85 114.61a2.05 2.05 0 1 0 4.1 0a2.05 2.05 0 1 0 -4.1 0M626.85 114.06a2.05 2.05 0 1 0 4.1 0a2.05 2.05 0 1 0 -4.1 0M626.85 113.69a2.05 2.05 0 1 0 4.1 0a2.05 2.05 0 1 0 -4.1 0M626.85 113.58a2.05 2.05 0 1 0 4.1 0a2.05 2.05 0 1 0 -4.1 0M626.85 113.41a2.05 2.05 0 1 0 4.1 0a2.05 2.05 0 1 0 -4.1 0M626.85 113.26a2.05 2.05 0 1 0 4.1 0a2.05 2.05 0 1 0 -4.1 0M626.85 112.03a2.05 2.05 0 1 0 4.1 0a2.05 2.05 0 1 0 -4.1 0M626.85 111.86a2.05 2.05 0 1 0 4.1 0a2.05 2.05 0 1 0 -4.1 0M626.85 111.75a2.05 2.05 0 1 0 4.1 0a2.05 2.05 0 1 0 -4.1 0M626.85 111.52a2.05 2.05 0 1 0 4.1 0a2.05 2.05 0 1 0 -4.1 0M626.85 111.43a2.05 2.05 0 1 0 4.1 0a2.05 2.05 0 1 0 -4.1 0M626.85 110.36a2.05 2.05 0 1 0 4.1 0a2.05 2.05 0 1 0 -4.1 0M626.85 110.10a2.05 2.05 0 1 0 4.1 0a2.05 2.05 0 1 0 -4.1 0M626.85 110.08a2.05 2.05 0 1 0 4.1 0a2.05 2.05 0 1 0 -4.1 0M626.85 109.30a2.05 2.05 0 1 0 4.1 0a2.05 2.05 0 1 0 -4.1 0M626.85 108.89a2.05 2.05 0 1 0 4.1 0a2.05 2.05 0 1 0 -4.1 0M626.85 107.66a2.05 2.05 0 1 0 4.1 0a2.05 2.05 0 1 0 -4.1 0M626.85 107.33a2.05 2.05 0 1 0 4.1 0a2.05 2.05 0 1 0 -4.1 0M626.85 105.48a2.05 2.05 0 1 0 4.1 0a2.05 2.05 0 1 0 -4.1 0M626.85 104.70a2.05 2.05 0 1 0 4.1 0a2.05 2.05 0 1 0 -4.1 0M626.85 103.40a2.05 2.05 0 1 0 4.1 0a2.05 2.05 0 1 0 -4.1 0M626.85 103.29a2.05 2.05 0 1 0 4.1 0a2.05 2.05 0 1 0 -4.1 0M626.85 102.53a2.05 2.05 0 1 0 4.1 0a2.05 2.05 0 1 0 -4.1 0M626.85 102.17a2.05 2.05 0 1 0 4.1 0a2.05 2.05 0 1 0 -4.1 0M626.85 100.48a2.05 2.05 0 1 0 4.1 0a2.05 2.05 0 1 0 -4.1 0M626.85 99.66a2.05 2.05 0 1 0 4.1 0a2.05 2.05 0 1 0 -4.1 0M626.85 99.55a2.05 2.05 0 1 0 4.1 0a2.05 2.05 0 1 0 -4.1 0M626.85 99.36a2.05 2.05 0 1 0 4.1 0a2.05 2.05 0 1 0 -4.1 0M626.85 99.32a2.05 2.05 0 1 0 4.1 0a2.05 2.05 0 1 0 -4.1 0M626.85 99.13a2.05 2.05 0 1 0 4.1 0a2.05 2.05 0 1 0 -4.1 0M626.85 98.65a2.05 2.05 0 1 0 4.1 0a2.05 2.05 0 1 0 -4.1 0M626.85 98.42a2.05 2.05 0 1 0 4.1 0a2.05 2.05 0 1 0 -4.1 0M626.85 98.40a2.05 2.05 0 1 0 4.1 0a2.05 2.05 0 1 0 -4.1 0M626.85 98.34a2.05 2.05 0 1 0 4.1 0a2.05 2.05 0 1 0 -4.1 0M626.85 98.30a2.05 2.05 0 1 0 4.1 0a2.05 2.05 0 1 0 -4.1 0M626.85 97.78a2.05 2.05 0 1 0 4.1 0a2.05 2.05 0 1 0 -4.1 0M626.85 97.18a2.05 2.05 0 1 0 4.1 0a2.05 2.05 0 1 0 -4.1 0M626.85 96.48a2.05 2.05 0 1 0 4.1 0a2.05 2.05 0 1 0 -4.1 0M626.85 95.98a2.05 2.05 0 1 0 4.1 0a2.05 2.05 0 1 0 -4.1 0M626.85 95.95a2.05 2.05 0 1 0 4.1 0a2.05 2.05 0 1 0 -4.1 0M626.85 95.47a2.05 2.05 0 1 0 4.1 0a2.05 2.05 0 1 0 -4.1 0M626.85 94.95a2.05 2.05 0 1 0 4.1 0a2.05 2.05 0 1 0 -4.1 0M626.85 92.02a2.05 2.05 0 1 0 4.1 0a2.05 2.05 0 1 0 -4.1 0M626.85 92.00a2.05 2.05 0 1 0 4.1 0a2.05 2.05 0 1 0 -4.1 0M626.85 91.58a2.05 2.05 0 1 0 4.1 0a2.05 2.05 0 1 0 -4.1 0M626.85 91.53a2.05 2.05 0 1 0 4.1 0a2.05 2.05 0 1 0 -4.1 0M626.85 89.94a2.05 2.05 0 1 0 4.1 0a2.05 2.05 0 1 0 -4.1 0M626.85 89.91a2.05 2.05 0 1 0 4.1 0a2.05 2.05 0 1 0 -4.1 0M626.85 89.72a2.05 2.05 0 1 0 4.1 0a2.05 2.05 0 1 0 -4.1 0M626.85 84.51a2.05 2.05 0 1 0 4.1 0a2.05 2.05 0 1 0 -4.1 0M626.85 83.95a2.05 2.05 0 1 0 4.1 0a2.05 2.05 0 1 0 -4.1 0M626.85 83.93a2.05 2.05 0 1 0 4.1 0a2.05 2.05 0 1 0 -4.1 0M626.85 83.83a2.05 2.05 0 1 0 4.1 0a2.05 2.05 0 1 0 -4.1 0M626.85 83.81a2.05 2.05 0 1 0 4.1 0a2.05 2.05 0 1 0 -4.1 0M626.85 83.71a2.05 2.05 0 1 0 4.1 0a2.05 2.05 0 1 0 -4.1 0M626.85 83.14a2.05 2.05 0 1 0 4.1 0a2.05 2.05 0 1 0 -4.1 0M626.85 82.62a2.05 2.05 0 1 0 4.1 0a2.05 2.05 0 1 0 -4.1 0M626.85 81.11a2.05 2.05 0 1 0 4.1 0a2.05 2.05 0 1 0 -4.1 0M626.85 79.07a2.05 2.05 0 1 0 4.1 0a2.05 2.05 0 1 0 -4.1 0M626.85 75.20a2.05 2.05 0 1 0 4.1 0a2.05 2.05 0 1 0 -4.1 0M626.85 71.84a2.05 2.05 0 1 0 4.1 0a2.05 2.05 0 1 0 -4.1 0M626.85 70.13a2.05 2.05 0 1 0 4.1 0a2.05 2.05 0 1 0 -4.1 0M626.85 69.38a2.05 2.05 0 1 0 4.1 0a2.05 2.05 0 1 0 -4.1 0M626.85 59.44a2.05 2.05 0 1 0 4.1 0a2.05 2.05 0 1 0 -4.1 0" fill="#0000ff"/>
<path d="M557.8 104.82L628.9 116.40M557.8 120.68L628.9 118.99M557.8 149.24L628.9 134.85M557.8 108.32L628.9 114.61M557.8 117.56L628.9 125.08M557.8 131.66L628.9 127.99M557.8 103.66L628.9 110.10M557.8 94.99L628.9 104.70M557.8 112.00L628.9 83.93M557.8 102.51L628.9 114.06M557.8 115.77L628.9 103.29M557.8 116.87L628.9 95.95M557.8 128.59L628.9 124.61M557.8 96.36L628.9 92.02M557.8 110.77L628.9 98.34M557.8 129.92L628.9 149.04M557.8 107.40L628.9 95.98M557.8 120.54L628.9 133.73M557.8 111.96L628.9 111.43M557.8 86.83L628.9 83.95M557.8 108.91L628.9 89.72M557.8 116.18L628.9 128.76M557.8 101.80L628.9 94.95M557.8 116.35L628.9 126.39M557.8 108.26L628.9 151.43M557.8 99.86L628.9 95.47M557.8 142.30L628.9 126.01M557.8 130.00L628.9 107.33M557.8 149.50L628.9 146.74M557.8 99.51L628.9 83.83M557.8 106.46L628.9 118.01M557.8 83.46L628.9 115.48M557.8 105.98L628.9 125.30M557.8 86.82L628.9 97.18M557.8 119.22L628.9 144.05M557.8 81.80L628.9 81.11M557.8 98.71L628.9 83.71M557.8 106.08L628.9 118.31M557.8 127.02L628.9 132.51M557.8 87.48L628.9 122.30M557.8 123.30L628.9 122.24M557.8 108.35L628.9 98.65M557.8 112.52L628.9 89.94M557.8 98.64L628.9 99.55M557.8 118.22L628.9 108.89M557.8 116.87L628.9 99.13M557.8 126.91L628.9 116.37M557.8 114.46L628.9 102.53M557.8 85.13L628.9 70.13M557.8 149.59L628.9 136.91M557.8 123.53L628.9 107.66M557.8 93.00L628.9 122.59M557.8 130.27L628.9 134.30M557.8 111.65L628.9 99.32M557.8 98.45L628.9 100.48M557.8 87.50L628.9 115.73M557.8 115.94L628.9 126.70M557.8 85.02L628.9 84.51M557.8 118.00L628.9 121.60M557.8 103.61L628.9 118.04M557.8 129.39L628.9 111.75M557.8 122.56L628.9 136.46M557.8 136.76L628.9 115.01M557.8 96.94L628.9 102.17M557.8 106.38L628.9 105.48M557.8 109.91L628.9 135.67M557.8 120.78L628.9 113.41M557.8 126.71L628.9 126.76M557.8 127.36L628.9 124.66M557.8 96.89L628.9 109.30M557.8 115.24L628.9 98.30M557.8 100.69L628.9 75.20M557.8 121.22L628.9 113.26M557.8 97.18L628.9 83.81M557.8 93.50L628.9 97.78M557.8 83.11L628.9 99.66M557.8 115.01L628.9 98.42M557.8 122.48L628.9 79.07M557.8 112.92L628.9 117.64M557.8 109.39L628.9 96.48M557.8 123.14L628.9 110.08M557.8 112.74L628.9 83.14M557.8 124.51L628.9 99.36M557.8 124.17L628.9 133.71M557.8 125.38L628.9 138.33M557.8 109.77L628.9 91.58M557.8 109.44L628.9 98.40M557.8 82.70L628.9 89.91M557.8 108.88L628.9 113.58M557.8 141.74L628.9 113.69M557.8 144.44L628.9 117.00M557.8 112.70L628.9 91.53M557.8 113.67L628.9 125.62M557.8 105.92L628.9 116.87M557.8 115.73L628.9 111.86M557.8 114.89L628.9 115.37M557.8 127.60L628.9 122.31M557.8 134.26L628.9 103.40M557.8 89.30L628.9 131.74M557.8 109.80L628.9 111.52M557.8 131.51L628.9 112.03M557.8 120.85L628.9 145.79M557.8 117.30L628.9 115.98M557.8 110.50L628.9 130.92M557.8 101.22L628.9 92.00M557.8 133.31L628.9 133.51M557.8 113.90L628.9 121.32M557.8 130.85L628.9 134.39M557.8 113.48L628.9 71.84M557.8 115.69L628.9 110.36M557.8 56.12L628.9 124.86M557.8 76.00L628.9 82.62M557.8 165.44L628.9 115.75M557.8 170.41L628.9 177.03M557.8 115.75L628.9 178.69M557.8 102.50L628.9 175.38M557.8 124.03L628.9 173.72M557.8 95.88L628.9 177.03M557.8 132.31L628.9 160.47M557.8 115.75L628.9 157.16M557.8 140.59L628.9 153.84M557.8 107.47L628.9 158.81M557.8 127.34L628.9 155.50M557.8 87.59L628.9 59.44M557.8 115.75L628.9 69.38M557.8 145.56L628.9 132.31M557.8 148.88L628.9 140.59M557.8 147.22L628.9 122.38M557.8 142.25L628.9 145.56" stroke="#00ff00" stroke-width="0.9" fill="none"/>
<path d="M555.75 170.41a2.05 2.05 0 1 0 4.1 0a2.05 2.05 0 1 0 -4.1 0M555.75 165.44a2.05 2.05 0 1 0 4.1 0a2.05 2.05 0 1 0 -4.1 0M555.75 149.59a2.05 2.05 0 1 0 4.1 0a2.05 2.05 0 1 0 -4.1 0M555.75 149.50a2.05 2.05 0 1 0 4.1 0a2.05 2.05 0 1 0 -4.1 0M555.75 149.24a2.05 2.05 0 1 0 4.1 0a2.05 2.05 0 1 0 -4.1 0M555.75 148.88a2.05 2.05 0 1 0 4.1 0a2.05 2.05 0 1 0 -4.1 0M555.75 147.22a2.05 2.05 0 1 0 4.1 0a2.05 2.05 0 1 0 -4.1 0M555.75 145.56a2.05 2.05 0 1 0 4.1 0a2.05 2.05 0 1 0 -4.1 0M555.75 144.44a2.05 2.05 0 1 0 4.1 0a2.05 2.05 0 1 0 -4.1 0M555.75 142.30a2.05 2.05 0 1 0 4.1 0a2.05 2.05 0 1 0 -4.1 0M555.75 142.25a2.05 2.05 0 1 0 4.1 0a2.05 2.05 0 1 0 -4.1 0M555.75 141.74a2.05 2.05 0 1 0 4.1 0a2.05 2.05 0 1 0 -4.1 0M555.75 140.59a2.05 2.05 0 1 0 4.1 0a2.05 2.05 0 1 0 -4.1 0M555.75 136.76a2.05 2.05 0 1 0 4.1 0a2.05 2.05 0 1 0 -4.1 0M555.75 134.26a2.05 2.05 0 1 0 4.1 0a2.05 2.05 0 1 0 -4.1 0M555.75 133.31a2.05 2.05 0 1 0 4.1 0a2.05 2.05 0 1 0 -4.1 0M555.75 132.31a2.05 2.05 0 1 0 4.1 0a2.05 2.05 0 1 0 -4.1 0M555.75 131.66a2.05 2.05 0 1 0 4.1 0a2.05 2.05 0 1 0 -4.1 0M555.75 131.51a2.05 2.05 0 1 0 4.1 0a2.05 2.05 0 1 0 -4.1 0M555.75 130.85a2.05 2.05 0 1 0 4.1 0a2.05 2.05 0 1 0 -4.1 0M555.75 130.27a2.05 2.05 0 1 0 4.1 0a2.05 2.05 0 1 0 -4.1 0M555.75 130.00a2.05 2.05 0 1 0 4.1 0a2.05 2.05 0 1 0 -4.1 0M555.75 129.92a2.05 2.05 0 1 0 4.1 0a2.05 2.05 0 1 0 -4.1 0M555.75 129.39a2.05 2.05 0 1 0 4.1 0a2.05 2.05 0 1 0 -4.1 0M555.75 128.59a2.05 2.05 0 1 0 4.1 0a2.05 2.05 0 1 0 -4.1 0M555.75 127.60a2.05 2.05 0 1 0 4.1 0a2.05 2.05 0 1 0 -4.1 0M555.75 127.36a2.05 2.05 0 1 0 4.1 0a2.05 2.05 0 1 0 -4.1 0M555.75 127.34a2.05 2.05 0 1 0 4.1 0a2.05 2.05 0 1 0 -4.1 0M555.75 127.02a2.05 2.05 0 1 0 4.1 0a2.05 2.05 0 1 0 -4.1 0M555.75 126.91a2.05 2.05 0 1 0 4.1 0a2.05 2.05 0 1 0 -4.1 0M555.75 126.71a2.05 2.05 0 1 0 4.1 0a2.05 2.05 0 1 0 -4.1 0M555.75 125.38a2.05 2.05 0 1 0 4.1 0a2.05 2.05 0 1 0 -4.1 0M555.75 124.51a2.05 2.05 0 1 0 4.1 0a2.05 2.05 0 1 0 -4.1 0M555.75 124.17a2.05 2.05 0 1 0 4.1 0a2.05 2.05 0 1 0 -4.1 0M555.75 124.03a2.05 2.05 0 1 0 4.1 0a2.05 2.05 0 1 0 -4.1 0M555.75 123.53a2.05 2.05 0 1 0 4.1 0a2.05 2.05 0 1 0 -4.1 0M555.75 123.30a2.05 2.05 0 1 0 4.1 0a2.05 2.05 0 1 0 -4.1 0M555.75 123.14a2.05 2.05 0 1 0 4.1 0a2.05 2.05 0 1 0 -4.1 0M555.75 122.56a2.05 2.05 0 1 0 4.1 0a2.05 2.05 0 1 0 -4.1 0M555.75 122.48a2.05 2.05 0 1 0 4.1 0a2.05 2.05 0 1 0 -4.1 0M555.75 121.22a2.05 2.05 0 1 0 4.1 0a2.05 2.05 0 1 0 -4.1 0M555.75 120.85a2.05 2.05 0 1 0 4.1 0a2.05 2.05 0 1 0 -4.1 0M555.75 120.78a2.05 2.05 0 1 0 4.1 0a2.05 2.05 0 1 0 -4.1 0M555.75 120.68a2.05 2.05 0 1 0 4.1 0a2.05 2.05 0 1 0 -4.1 0M555.75 120.54a2.05 2.05 0 1 0 4.1 0a2.05 2.05 0 1 0 -4.1 0M555.75 119.22a2.05 2.05 0 1 0 4.1 0a2.05 2.05 0 1 0 -4.1 0M555.75 118.22a2.05 2.05 0 1 0 4.1 0a2.05 2.05 0 1 0 -4.1 0M555.75 118.00a2.05 2.05 0 1 0 4.1 0a2.05 2.05 0 1 0 -4.1 0M555.75 117.56a2.05 2.05 0 1 0 4.1 0a2.05 2.05 0 1 0 -4.1 0M555.75 117.30a2.05 2.05 0 1 0 4.1 0a2.05 2.05 0 1 0 -4.1 0M555.75 116.87a2.05 2.05 0 1 0 4.1 0a2.05 2.05 0 1 0 -4.1 0M555.75 116.87a2.05 2.05 0 1 0 4.1 0a2.05 2.05 0 1 0 -4.1 0M555.75 116.35a2.05 2.05 0 1 0 4.1 0a2.05 2.05 0 1 0 -4.1 0M555.75 116.18a2.05 2.05 0 1 0 4.1 0a2.05 2.05 0 1 0 -4.1 0M555.75 115.94a2.05 2.05 0 1 0 4.1 0a2.05 2.05 0 1 0 -4.1 0M555.75 115.77a2.05 2.05 0 1 0 4.1 0a2.05 2.05 0 1 0 -4.1 0M555.75 115.75a2.05 2.05 0 1 0 4.1 0a2.05 2.05 0 1 0 -4.1 0M555.75 115.73a2.05 2.05 0 1 0 4.1 0a2.05 2.05 0 1 0 -4.1 0M555.75 115.69a2.05 2.05 0 1 0 4.1 0a2.05 2.05 0 1 0 -4.1 0M555.75 115.24a2.05 2.05 0 1 0 4.1 0a2.05 2.05 0 1 0 -4.1 0M555.75 115.01a2.05 2.05 0 1 0 4.1 0a2.05 2.05 0 1 0 -4.1 0M555.75 114.89a2.05 2.05 0 1 0 4.1 0a2.05 2.05 0 1 0 -4.1 0M555.75 114.46a2.05 2.05 0 1 0 4.1 0a2.05 2.05 0 1 0 -4.1 0M555.75 113.90a2.05 2.05 0 1 0 4.1 0a2.05 2.05 0 1 0 -4.1 0M555.75 113.67a2.05 2.05 0 1 0 4.1 0a2.05 2.05 0 1 0 -4.1 0M555.75 113.48a2.05 2.05 0 1 0 4.1 0a2.05 2.05 0 1 0 -4.1 0M555.75 112.92a2.05 2.05 0 1 0 4.1 0a2.05 2.05 0 1 0 -4.1 0M555.75 112.74a2.05 2.05 0 1 0 4.1 0a2.05 2.05 0 1 0 -4.1 0M555.75 112.70a2.05 2.05 0 1 0 4.1 0a2.05 2.05 0 1 0 -4.1 0M555.75 112.52a2.05 2.05 0 1 0 4.1 0a2.05 2.05 0 1 0 -4.1 0M555.75 112.00a2.05 2.05 0 1 0 4.1 0a2.05 2.05 0 1 0 -4.1 0M555.75 111.96a2.05 2.05 0 1 0 4.1 0a2.05 2.05 0 1 0 -4.1 0M555.75 111.65a2.05 2.05 0 1 0 4.1 0a2.05 2.05 0 1 0 -4.1 0M555.75 110.77a2.05 2.05 0 1 0 4.1 0a2.05 2.05 0 1 0 -4.1 0M555.75 110.50a2.05 2.05 0 1 0 4.1 0a2.05 2.05 0 1 0 -4.1 0M555.75 109.91a2.05 2.05 0 1 0 4.1 0a2.05 2.05 0 1 0 -4.1 0M555.75 109.80a2.05 2.05 0 1 0 4.1 0a2.05 2.05 0 1 0 -4.1 0M555.75 109.77a2.05 2.05 0 1 0 4.1 0a2.05 2.05 0 1 0 -4.1 0M555.75 109.44a2.05 2.05 0 1 0 4.1 0a2.05 2.05 0 1 0 -4.1 0M555.75 109.39a2.05 2.05 0 1 0 4.1 0a2.05 2.05 0 1 0 -4.1 0M555.75 108.91a2.05 2.05 0 1 0 4.1 0a2.05 2.05 0 1 0 -4.1 0M555.75 108.88a2.05 2.05 0 1 0 4.1 0a2.05 2.05 0 1 0 -4.1 0M555.75 108.35a2.05 2.05 0 1 0 4.1 0a2.05 2.05 0 1 0 -4.1 0M555.75 108.32a2.05 2.05 0 1 0 4.1 0a2.05 2.05 0 1 0 -4.1 0M555.75 108.26a2.05 2.05 0 1 0 4.1 0a2.05 2.05 0 1 0 -4.1 0M555.75 107.47a2.05 2.05 0 1 0 4.1 0a2.05 2.05 0 1 0 -4.1 0M555.75 107.40a2.05 2.05 0 1 0 4.1 0a2.05 2.05 0 1 0 -4.1 0M555.75 106.46a2.05 2.05 0 1 0 4.1 0a2.05 2.05 0 1 0 -4.1 0M555.75 106.38a2.05 2.05 0 1 0 4.1 0a2.05 2.05 0 1 0 -4.1 0M555.75 106.08a2.05 2.05 0 1 0 4.1 0a2.05 2.05 0 1 0 -4.1 0M555.75 105.98a2.05 2.05 0 1 0 4.1 0a2.05 2.05 0 1 0 -4.1 0M555.75 105.92a2.05 2.05 0 1 0 4.1 0a2.05 2.05 0 1 0 -4.1 0M555.75 104.82a2.05 2.05 0 1 0 4.1 0a2.05 2.05 0 1 0 -4.1 0M555.75 103.66a2.05 2.05 0 1 0 4.1 0a2.05 2.05 0 1 0 -4.1 0M555.75 103.61a2.05 2.05 0 1 0 4.1 0a2.05 2.05 0 1 0 -4.1 0M555.75 102.51a2.05 2.05 0 1 0 4.1 0a2.05 2.05 0 1 0 -4.1 0M555.75 102.50a2.05 2.05 0 1 0 4.1 0a2.05 2.05 0 1 0 -4.1 0M555.75 101.80a2.05 2.05 0 1 0 4.1 0a2.05 2.05 0 1 0 -4.1 0M555.75 101.22a2.05 2.05 0 1 0 4.1 0a2.05 2.05 0 1 0 -4.1 0M555.75 100.69a2.05 2.05 0 1 0 4.1 0a2.05 2.05 0 1 0 -4.1 0M555.75 99.86a2.05 2.05 0 1 0 4.1 0a2.05 2.05 0 1 0 -4.1 0M555.75 99.51a2.05 2.05 0 1 0 4.1 0a2.05 2.05 0 1 0 -4.1 0M555.75 98.71a2.05 2.05 0 1 0 4.1 0a2.05 2.05 0 1 0 -4.1 0M555.75 98.64a2.05 2.05 0 1 0 4.1 0a2.05 2.05 0 1 0 -4.1 0M555.75 98.45a2.05 2.05 0 1 0 4.1 0a2.05 2.05 0 1 0 -4.1 0M555.75 97.18a2.05 2.05 0 1 0 4.1 0a2.05 2.05 0 1 0 -4.1 0M555.75 96.94a2.05 2.05 0 1 0 4.1 0a2.05 2.05 0 1 0 -4.1 0M555.75 96.89a2.05 2.05 0 1 0 4.1 0a2.05 2.05 0 1 0 -4.1 0M555.75 96.36a2.05 2.05 0 1 0 4.1 0a2.05 2.05 0 1 0 -4.1 0M555.75 95.88a2.05 2.05 0 1 0 4.1 0a2.05 2.05 0 1 0 -4.1 0M555.75 94.99a2.05 2.05 0 1 0 4.1 0a2.05 2.05 0 1 0 -4.1 0M555.75 93.50a2.05 2.05 0 1 0 4.1 0a2.05 2.05 0 1 0 -4.1 0M555.75 93.00a2.05 2.05 0 1 0 4.1 0a2.05 2.05 0 1 0 -4.1 0M555.75 89.30a2.05 2.05 0 1 0 4.1 0a2.05 2.05 0 1 0 -4.1 0M555.75 87.59a2.05 2.05 0 1 0 4.1 0a2.05 2.05 0 1 0 -4.1 0M555.75 87.50a2.05 2.05 0 1 0 4.1 0a2.05 2.05 0 1 0 -4.1 0M555.75 87.48a2.05 2.05 0 1 0 4.1 0a2.05 2.05 0 1 0 -4.1 0M555.75 86.83a2.05 2.05 0 1 0 4.1 0a2.05 2.05 0 1 0 -4.1 0M555.75 86.82a2.05 2.05 0 1 0 4.1 0a2.05 2.05 0 1 0 -4.1 0M555.75 85.13a2.05 2.05 0 1 0 4.1 0a2.05 2.05 0 1 0 -4.1 0M555.75 85.02a2.05 2.05 0 1 0 4.1 0a2.05 2.05 0 1 0 -4.1 0M555.75 83.46a2.05 2.05 0 1 0 4.1 0a2.05 2.05 0 1 0 -4.1 0M555.75 83.11a2.05 2.05 0 1 0 4.1 0a2.05 2.05 0 1 0 -4.1 0M555.75 82.70a2.05 2.05 0 1 0 4.1 0a2.05 2.05 0 1 0 -4.1 0M555.75 81.80a2.05 2.05 0 1 0 4.1 0a2.05 2.05 0 1 0 -4.1 0M555.75 76.00a2.05 2.05 0 1 0 4.1 0a2.05 2.05 0 1 0 -4.1 0M555.75 56.12a2.05 2.05 0 1 0 4.1 0a2.05 2.05 0 1 0 -4.1 0" fill="#ff0000"/>
<text x="497.17" y="186.50" font-size="11.6">0</text>
<text x="490.72" y="153.38" font-size="11.6">20</text>
<text x="490.72" y="120.25" font-size="11.6">40</text>
<text x="490.72" y="87.12" font-size="11.6">60</text>
<text x="490.72" y="54.00" font-size="11.6">80</text>
<text x="534.75" y="201.50" font-size="12.00" textLength="46.13" lengthAdjust="spacingAndGlyphs">Baseline</text>
<text x="601.93" y="201.50" font-size="12.00" textLength="54.34" lengthAdjust="spacingAndGlyphs">Follow-up</text>
<path d="M558.25 42.8H630.1M558.25 36.9V48.7M630.1 36.9V48.7" stroke="#000" stroke-width="1.8" fill="none"/>
<text x="587.73" y="35.90" font-size="11.50" textLength="12.66" lengthAdjust="spacingAndGlyphs">ns</text>
<text transform="translate(481.40 158.20) rotate(-90)" x="0" y="0" font-size="15.26" textLength="88.48" lengthAdjust="spacingAndGlyphs">SDMT scores</text>
<text x="470.25" y="14.60" font-size="19.80" textLength="11.49" lengthAdjust="spacingAndGlyphs">C</text>
<path d="M43.65 306.0V439.35H210.4" stroke="#000" stroke-width="1.5" fill="none"/>
<path d="M38.05 439.35H43.65M38.05 406.16H43.65M38.05 372.98H43.65M38.05 339.79H43.65M38.05 306.60H43.65M91.07 439.35V444.65000000000003M162.35 439.35V444.65000000000003" stroke="#000" stroke-width="1.2" fill="none"/>
<path d="M160.30 389.57a2.05 2.05 0 1 0 4.1 0a2.05 2.05 0 1 0 -4.1 0M160.30 382.93a2.05 2.05 0 1 0 4.1 0a2.05 2.05 0 1 0 -4.1 0M160.30 369.66a2.05 2.05 0 1 0 4.1 0a2.05 2.05 0 1 0 -4.1 0M160.30 366.34a2.05 2.05 0 1 0 4.1 0a2.05 2.05 0 1 0 -4.1 0M160.30 363.02a2.05 2.05 0 1 0 4.1 0a2.05 2.05 0 1 0 -4.1 0M160.30 359.70a2.05 2.05 0 1 0 4.1 0a2.05 2.05 0 1 0 -4.1 0M160.30 356.38a2.05 2.05 0 1 0 4.1 0a2.05 2.05 0 1 0 -4.1 0M160.30 353.06a2.05 2.05 0 1 0 4.1 0a2.05 2.05 0 1 0 -4.1 0M160.30 349.74a2.05 2.05 0 1 0 4.1 0a2.05 2.05 0 1 0 -4.1 0M160.30 346.43a2.05 2.05 0 1 0 4.1 0a2.05 2.05 0 1 0 -4.1 0M160.30 343.11a2.05 2.05 0 1 0 4.1 0a2.05 2.05 0 1 0 -4.1 0M160.30 339.79a2.05 2.05 0 1 0 4.1 0a2.05 2.05 0 1 0 -4.1 0" fill="#0000ff"/>
<path d="M91.1 356.38L162.3 356.38M91.1 356.38L162.3 353.06M91.1 356.38L162.3 349.74M91.1 353.06L162.3 356.38M91.1 353.06L162.3 349.74M91.1 353.06L162.3 346.43M91.1 349.74L162.3 356.38M91.1 349.74L162.3 349.74M91.1 349.74L162.3 346.43M91.1 349.74L162.3 343.11M91.1 349.74L162.3 339.79M91.1 346.43L162.3 356.38M91.1 346.43L162.3 353.06M91.1 346.43L162.3 349.74M91.1 346.43L162.3 346.43M91.1 346.43L162.3 339.79M91.1 343.11L162.3 353.06M91.1 343.11L162.3 349.74M91.1 343.11L162.3 346.43M91.1 343.11L162.3 343.11M91.1 343.11L162.3 339.79M91.1 339.79L162.3 349.74M91.1 339.79L162.3 343.11M91.1 339.79L162.3 339.79M91.1 359.70L162.3 339.79M91.1 359.70L162.3 346.43M91.1 359.70L162.3 353.06M91.1 359.70L162.3 356.38M91.1 359.70L162.3 359.70M91.1 363.02L162.3 339.79M91.1 363.02L162.3 349.74M91.1 363.02L162.3 356.38M91.1 363.02L162.3 359.70M91.1 366.34L162.3 353.06M91.1 366.34L162.3 363.02M91.1 366.34L162.3 389.57M91.1 366.34L162.3 359.70M91.1 369.66L162.3 356.38M91.1 369.66L162.3 366.34M91.1 369.66L162.3 369.66M91.1 369.66L162.3 349.74M91.1 372.98L162.3 366.34M91.1 372.98L162.3 359.70M91.1 372.98L162.3 369.66M91.1 382.93L162.3 382.93M91.1 353.06L162.3 359.70M91.1 349.74L162.3 363.02M91.1 346.43L162.3 366.34M91.1 343.11L162.3 359.70M91.1 339.79L162.3 363.02M91.1 356.38L162.3 369.66M91.1 353.06L162.3 366.34M91.1 346.43L162.3 353.06M91.1 349.74L162.3 359.70M91.1 359.70L162.3 343.11M91.1 363.02L162.3 343.11M91.1 366.34L162.3 346.43M91.1 356.38L162.3 363.02M91.1 339.79L162.3 353.06M91.1 343.11L162.3 363.02" stroke="#00ff00" stroke-width="0.9" fill="none"/>
<path d="M89.02 382.93a2.05 2.05 0 1 0 4.1 0a2.05 2.05 0 1 0 -4.1 0M89.02 372.98a2.05 2.05 0 1 0 4.1 0a2.05 2.05 0 1 0 -4.1 0M89.02 369.66a2.05 2.05 0 1 0 4.1 0a2.05 2.05 0 1 0 -4.1 0M89.02 366.34a2.05 2.05 0 1 0 4.1 0a2.05 2.05 0 1 0 -4.1 0M89.02 363.02a2.05 2.05 0 1 0 4.1 0a2.05 2.05 0 1 0 -4.1 0M89.02 359.70a2.05 2.05 0 1 0 4.1 0a2.05 2.05 0 1 0 -4.1 0M89.02 356.38a2.05 2.05 0 1 0 4.1 0a2.05 2.05 0 1 0 -4.1 0M89.02 353.06a2.05 2.05 0 1 0 4.1 0a2.05 2.05 0 1 0 -4.1 0M89.02 349.74a2.05 2.05 0 1 0 4.1 0a2.05 2.05 0 1 0 -4.1 0M89.02 346.43a2.05 2.05 0 1 0 4.1 0a2.05 2.05 0 1 0 -4.1 0M89.02 343.11a2.05 2.05 0 1 0 4.1 0a2.05 2.05 0 1 0 -4.1 0M89.02 339.79a2.05 2.05 0 1 0 4.1 0a2.05 2.05 0 1 0 -4.1 0" fill="#ff0000"/>
<text x="29.87" y="443.85" font-size="11.6">0</text>
<text x="23.42" y="410.66" font-size="11.6">10</text>
<text x="23.42" y="377.48" font-size="11.6">20</text>
<text x="23.42" y="344.29" font-size="11.6">30</text>
<text x="23.42" y="311.10" font-size="11.6">40</text>
<text x="68.26" y="458.85" font-size="12.00" textLength="45.52" lengthAdjust="spacingAndGlyphs">Baseline</text>
<text x="135.13" y="458.85" font-size="12.00" textLength="54.14" lengthAdjust="spacingAndGlyphs">Follow-up</text>
<path d="M90.15 326.6H162.7M90.15 321.0V332.5M162.7 321.0V332.5" stroke="#000" stroke-width="1.8" fill="none"/>
<text x="120.03" y="319.90" font-size="11.50" textLength="12.66" lengthAdjust="spacingAndGlyphs">ns</text>
<text transform="translate(14.00 415.43) rotate(-90)" x="0" y="0" font-size="14.83" textLength="88.70" lengthAdjust="spacingAndGlyphs">MoCA scores</text>
<text x="-0.63" y="238.10" font-size="19.80" textLength="13.84" lengthAdjust="spacingAndGlyphs">D</text>
<path d="M280.0 272.9V439.4H446.7" stroke="#000" stroke-width="1.5" fill="none"/>
<path d="M274.4 439.40H280.0M274.4 384.10H280.0M274.4 328.80H280.0M274.4 273.50H280.0M327.35 439.4V444.7M398.55 439.4V444.7" stroke="#000" stroke-width="1.2" fill="none"/>
<path d="M396.50 439.40a2.05 2.05 0 1 0 4.1 0a2.05 2.05 0 1 0 -4.1 0M396.50 431.80a2.05 2.05 0 1 0 4.1 0a2.05 2.05 0 1 0 -4.1 0M396.50 430.44a2.05 2.05 0 1 0 4.1 0a2.05 2.05 0 1 0 -4.1 0M396.50 430.24a2.05 2.05 0 1 0 4.1 0a2.05 2.05 0 1 0 -4.1 0M396.50 429.20a2.05 2.05 0 1 0 4.1 0a2.05 2.05 0 1 0 -4.1 0M396.50 428.38a2.05 2.05 0 1 0 4.1 0a2.05 2.05 0 1 0 -4.1 0M396.50 426.54a2.05 2.05 0 1 0 4.1 0a2.05 2.05 0 1 0 -4.1 0M396.50 422.76a2.05 2.05 0 1 0 4.1 0a2.05 2.05 0 1 0 -4.1 0M396.50 421.56a2.05 2.05 0 1 0 4.1 0a2.05 2.05 0 1 0 -4.1 0M396.50 419.43a2.05 2.05 0 1 0 4.1 0a2.05 2.05 0 1 0 -4.1 0M396.50 416.88a2.05 2.05 0 1 0 4.1 0a2.05 2.05 0 1 0 -4.1 0M396.50 415.86a2.05 2.05 0 1 0 4.1 0a2.05 2.05 0 1 0 -4.1 0M396.50 414.71a2.05 2.05 0 1 0 4.1 0a2.05 2.05 0 1 0 -4.1 0M396.50 413.80a2.05 2.05 0 1 0 4.1 0a2.05 2.05 0 1 0 -4.1 0M396.50 413.79a2.05 2.05 0 1 0 4.1 0a2.05 2.05 0 1 0 -4.1 0M396.50 412.97a2.05 2.05 0 1 0 4.1 0a2.05 2.05 0 1 0 -4.1 0M396.50 411.55a2.05 2.05 0 1 0 4.1 0a2.05 2.05 0 1 0 -4.1 0M396.50 411.50a2.05 2.05 0 1 0 4.1 0a2.05 2.05 0 1 0 -4.1 0M396.50 411.44a2.05 2.05 0 1 0 4.1 0a2.05 2.05 0 1 0 -4.1 0M396.50 409.16a2.05 2.05 0 1 0 4.1 0a2.05 2.05 0 1 0 -4.1 0M396.50 409.05a2.05 2.05 0 1 0 4.1 0a2.05 2.05 0 1 0 -4.1 0M396.50 409.01a2.05 2.05 0 1 0 4.1 0a2.05 2.05 0 1 0 -4.1 0M396.50 407.91a2.05 2.05 0 1 0 4.1 0a2.05 2.05 0 1 0 -4.1 0M396.50 407.86a2.05 2.05 0 1 0 4.1 0a2.05 2.05 0 1 0 -4.1 0M396.50 407.25a2.05 2.05 0 1 0 4.1 0a2.05 2.05 0 1 0 -4.1 0M396.50 405.68a2.05 2.05 0 1 0 4.1 0a2.05 2.05 0 1 0 -4.1 0M396.50 404.72a2.05 2.05 0 1 0 4.1 0a2.05 2.05 0 1 0 -4.1 0M396.50 403.76a2.05 2.05 0 1 0 4.1 0a2.05 2.05 0 1 0 -4.1 0M396.50 403.35a2.05 2.05 0 1 0 4.1 0a2.05 2.05 0 1 0 -4.1 0M396.50 403.29a2.05 2.05 0 1 0 4.1 0a2.05 2.05 0 1 0 -4.1 0M396.50 402.60a2.05 2.05 0 1 0 4.1 0a2.05 2.05 0 1 0 -4.1 0M396.50 401.98a2.05 2.05 0 1 0 4.1 0a2.05 2.05 0 1 0 -4.1 0M396.50 401.83a2.05 2.05 0 1 0 4.1 0a2.05 2.05 0 1 0 -4.1 0M396.50 400.54a2.05 2.05 0 1 0 4.1 0a2.05 2.05 0 1 0 -4.1 0M396.50 399.50a2.05 2.05 0 1 0 4.1 0a2.05 2.05 0 1 0 -4.1 0M396.50 396.86a2.05 2.05 0 1 0 4.1 0a2.05 2.05 0 1 0 -4.1 0M396.50 396.45a2.05 2.05 0 1 0 4.1 0a2.05 2.05 0 1 0 -4.1 0M396.50 396.42a2.05 2.05 0 1 0 4.1 0a2.05 2.05 0 1 0 -4.1 0M396.50 394.08a2.05 2.05 0 1 0 4.1 0a2.05 2.05 0 1 0 -4.1 0M396.50 393.84a2.05 2.05 0 1 0 4.1 0a2.05 2.05 0 1 0 -4.1 0M396.50 392.88a2.05 2.05 0 1 0 4.1 0a2.05 2.05 0 1 0 -4.1 0M396.50 392.13a2.05 2.05 0 1 0 4.1 0a2.05 2.05 0 1 0 -4.1 0M396.50 392.06a2.05 2.05 0 1 0 4.1 0a2.05 2.05 0 1 0 -4.1 0M396.50 391.79a2.05 2.05 0 1 0 4.1 0a2.05 2.05 0 1 0 -4.1 0M396.50 391.32a2.05 2.05 0 1 0 4.1 0a2.05 2.05 0 1 0 -4.1 0M396.50 390.62a2.05 2.05 0 1 0 4.1 0a2.05 2.05 0 1 0 -4.1 0M396.50 388.64a2.05 2.05 0 1 0 4.1 0a2.05 2.05 0 1 0 -4.1 0M396.50 388.41a2.05 2.05 0 1 0 4.1 0a2.05 2.05 0 1 0 -4.1 0M396.50 387.99a2.05 2.05 0 1 0 4.1 0a2.05 2.05 0 1 0 -4.1 0M396.50 386.19a2.05 2.05 0 1 0 4.1 0a2.05 2.05 0 1 0 -4.1 0M396.50 385.96a2.05 2.05 0 1 0 4.1 0a2.05 2.05 0 1 0 -4.1 0M396.50 384.03a2.05 2.05 0 1 0 4.1 0a2.05 2.05 0 1 0 -4.1 0M396.50 381.31a2.05 2.05 0 1 0 4.1 0a2.05 2.05 0 1 0 -4.1 0M396.50 379.67a2.05 2.05 0 1 0 4.1 0a2.05 2.05 0 1 0 -4.1 0M396.50 377.70a2.05 2.05 0 1 0 4.1 0a2.05 2.05 0 1 0 -4.1 0M396.50 376.84a2.05 2.05 0 1 0 4.1 0a2.05 2.05 0 1 0 -4.1 0M396.50 376.66a2.05 2.05 0 1 0 4.1 0a2.05 2.05 0 1 0 -4.1 0M396.50 375.26a2.05 2.05 0 1 0 4.1 0a2.05 2.05 0 1 0 -4.1 0M396.50 375.09a2.05 2.05 0 1 0 4.1 0a2.05 2.05 0 1 0 -4.1 0M396.50 371.75a2.05 2.05 0 1 0 4.1 0a2.05 2.05 0 1 0 -4.1 0M396.50 371.68a2.05 2.05 0 1 0 4.1 0a2.05 2.05 0 1 0 -4.1 0M396.50 371.25a2.05 2.05 0 1 0 4.1 0a2.05 2.05 0 1 0 -4.1 0M396.50 370.30a2.05 2.05 0 1 0 4.1 0a2.05 2.05 0 1 0 -4.1 0M396.50 369.14a2.05 2.05 0 1 0 4.1 0a2.05 2.05 0 1 0 -4.1 0M396.50 366.92a2.05 2.05 0 1 0 4.1 0a2.05 2.05 0 1 0 -4.1 0M396.50 364.60a2.05 2.05 0 1 0 4.1 0a2.05 2.05 0 1 0 -4.1 0M396.50 364.39a2.05 2.05 0 1 0 4.1 0a2.05 2.05 0 1 0 -4.1 0M396.50 363.35a2.05 2.05 0 1 0 4.1 0a2.05 2.05 0 1 0 -4.1 0M396.50 362.64a2.05 2.05 0 1 0 4.1 0a2.05 2.05 0 1 0 -4.1 0M396.50 362.26a2.05 2.05 0 1 0 4.1 0a2.05 2.05 0 1 0 -4.1 0M396.50 359.39a2.05 2.05 0 1 0 4.1 0a2.05 2.05 0 1 0 -4.1 0M396.50 358.87a2.05 2.05 0 1 0 4.1 0a2.05 2.05 0 1 0 -4.1 0M396.50 356.45a2.05 2.05 0 1 0 4.1 0a2.05 2.05 0 1 0 -4.1 0M396.50 355.22a2.05 2.05 0 1 0 4.1 0a2.05 2.05 0 1 0 -4.1 0M396.50 354.87a2.05 2.05 0 1 0 4.1 0a2.05 2.05 0 1 0 -4.1 0M396.50 348.33a2.05 2.05 0 1 0 4.1 0a2.05 2.05 0 1 0 -4.1 0M396.50 348.24a2.05 2.05 0 1 0 4.1 0a2.05 2.05 0 1 0 -4.1 0M396.50 346.17a2.05 2.05 0 1 0 4.1 0a2.05 2.05 0 1 0 -4.1 0M396.50 345.65a2.05 2.05 0 1 0 4.1 0a2.05 2.05 0 1 0 -4.1 0M396.50 344.74a2.05 2.05 0 1 0 4.1 0a2.05 2.05 0 1 0 -4.1 0M396.50 343.98a2.05 2.05 0 1 0 4.1 0a2.05 2.05 0 1 0 -4.1 0M396.50 342.48a2.05 2.05 0 1 0 4.1 0a2.05 2.05 0 1 0 -4.1 0M396.50 342.40a2.05 2.05 0 1 0 4.1 0a2.05 2.05 0 1 0 -4.1 0M396.50 342.32a2.05 2.05 0 1 0 4.1 0a2.05 2.05 0 1 0 -4.1 0M396.50 339.52a2.05 2.05 0 1 0 4.1 0a2.05 2.05 0 1 0 -4.1 0M396.50 336.94a2.05 2.05 0 1 0 4.1 0a2.05 2.05 0 1 0 -4.1 0M396.50 334.33a2.05 2.05 0 1 0 4.1 0a2.05 2.05 0 1 0 -4.1 0M396.50 324.71a2.05 2.05 0 1 0 4.1 0a2.05 2.05 0 1 0 -4.1 0M396.50 321.26a2.05 2.05 0 1 0 4.1 0a2.05 2.05 0 1 0 -4.1 0M396.50 320.50a2.05 2.05 0 1 0 4.1 0a2.05 2.05 0 1 0 -4.1 0M396.50 319.67a2.05 2.05 0 1 0 4.1 0a2.05 2.05 0 1 0 -4.1 0M396.50 317.74a2.05 2.05 0 1 0 4.1 0a2.05 2.05 0 1 0 -4.1 0M396.50 316.87a2.05 2.05 0 1 0 4.1 0a2.05 2.05 0 1 0 -4.1 0M396.50 316.06a2.05 2.05 0 1 0 4.1 0a2.05 2.05 0 1 0 -4.1 0M396.50 314.99a2.05 2.05 0 1 0 4.1 0a2.05 2.05 0 1 0 -4.1 0M396.50 314.98a2.05 2.05 0 1 0 4.1 0a2.05 2.05 0 1 0 -4.1 0M396.50 290.09a2.05 2.05 0 1 0 4.1 0a2.05 2.05 0 1 0 -4.1 0M396.50 284.56a2.05 2.05 0 1 0 4.1 0a2.05 2.05 0 1 0 -4.1 0M396.50 281.79a2.05 2.05 0 1 0 4.1 0a2.05 2.05 0 1 0 -4.1 0" fill="#0000ff"/>
<path d="M327.4 393.73L398.6 370.30M327.4 355.45L398.6 363.35M327.4 402.15L398.6 414.71M327.4 366.16L398.6 316.87M327.4 379.32L398.6 419.43M327.4 413.36L398.6 339.52M327.4 389.18L398.6 421.56M327.4 404.26L398.6 405.68M327.4 406.59L398.6 371.68M327.4 388.61L398.6 401.98M327.4 375.54L398.6 348.24M327.4 413.98L398.6 399.50M327.4 422.52L398.6 396.86M327.4 387.91L398.6 392.06M327.4 415.84L398.6 407.86M327.4 380.65L398.6 415.86M327.4 354.51L398.6 342.48M327.4 417.33L398.6 394.08M327.4 393.32L398.6 392.88M327.4 360.27L398.6 409.01M327.4 366.46L398.6 409.05M327.4 396.03L398.6 413.80M327.4 346.81L398.6 343.98M327.4 363.50L398.6 342.40M327.4 403.64L398.6 391.32M327.4 349.53L398.6 377.70M327.4 381.64L398.6 379.67M327.4 370.02L398.6 385.96M327.4 391.08L398.6 375.09M327.4 384.02L398.6 409.16M327.4 362.10L398.6 413.79M327.4 360.13L398.6 381.31M327.4 413.71L398.6 431.80M327.4 375.22L398.6 411.55M327.4 422.04L398.6 376.66M327.4 419.95L398.6 407.25M327.4 387.05L398.6 396.42M327.4 388.36L398.6 336.94M327.4 401.16L398.6 430.24M327.4 396.60L398.6 376.84M327.4 399.70L398.6 403.29M327.4 406.81L398.6 407.91M327.4 382.43L398.6 392.13M327.4 384.09L398.6 316.06M327.4 373.62L398.6 428.38M327.4 412.90L398.6 362.64M327.4 386.38L398.6 401.83M327.4 404.38L398.6 422.76M327.4 385.53L398.6 344.74M327.4 395.85L398.6 371.25M327.4 379.74L398.6 388.41M327.4 416.15L398.6 429.20M327.4 387.29L398.6 366.92M327.4 401.56L398.6 386.19M327.4 366.90L398.6 362.26M327.4 362.85L398.6 354.87M327.4 369.63L398.6 369.14M327.4 367.24L398.6 403.35M327.4 396.20L398.6 358.87M327.4 369.42L398.6 321.26M327.4 386.58L398.6 430.44M327.4 416.14L398.6 348.33M327.4 398.49L398.6 403.76M327.4 342.88L398.6 387.99M327.4 393.88L398.6 393.84M327.4 397.34L398.6 416.88M327.4 380.81L398.6 342.32M327.4 369.61L398.6 404.72M327.4 418.66L398.6 391.79M327.4 406.40L398.6 411.44M327.4 361.52L398.6 402.60M327.4 361.75L398.6 324.71M327.4 397.59L398.6 364.39M327.4 390.22L398.6 390.62M327.4 388.48L398.6 319.67M327.4 413.95L398.6 412.97M327.4 385.85L398.6 364.60M327.4 358.41L398.6 355.22M327.4 410.99L398.6 375.26M327.4 379.95L398.6 314.99M327.4 387.28L398.6 426.54M327.4 415.76L398.6 345.65M327.4 402.92L398.6 388.64M327.4 353.99L398.6 400.54M327.4 368.43L398.6 346.17M327.4 406.20L398.6 396.45M327.4 363.21L398.6 359.39M327.4 355.39L398.6 371.75M327.4 389.49L398.6 411.50M327.4 386.71L398.6 384.03M327.4 309.44L398.6 320.50M327.4 320.50L398.6 334.33M327.4 326.03L398.6 281.79M327.4 328.80L398.6 356.45M327.4 356.45L398.6 284.56M327.4 378.57L398.6 290.09M327.4 436.63L398.6 439.40M327.4 339.86L398.6 314.98M327.4 348.15L398.6 317.74" stroke="#00ff00" stroke-width="0.9" fill="none"/>
<path d="M325.30 436.63a2.05 2.05 0 1 0 4.1 0a2.05 2.05 0 1 0 -4.1 0M325.30 422.52a2.05 2.05 0 1 0 4.1 0a2.05 2.05 0 1 0 -4.1 0M325.30 422.04a2.05 2.05 0 1 0 4.1 0a2.05 2.05 0 1 0 -4.1 0M325.30 419.95a2.05 2.05 0 1 0 4.1 0a2.05 2.05 0 1 0 -4.1 0M325.30 418.66a2.05 2.05 0 1 0 4.1 0a2.05 2.05 0 1 0 -4.1 0M325.30 417.33a2.05 2.05 0 1 0 4.1 0a2.05 2.05 0 1 0 -4.1 0M325.30 416.15a2.05 2.05 0 1 0 4.1 0a2.05 2.05 0 1 0 -4.1 0M325.30 416.14a2.05 2.05 0 1 0 4.1 0a2.05 2.05 0 1 0 -4.1 0M325.30 415.84a2.05 2.05 0 1 0 4.1 0a2.05 2.05 0 1 0 -4.1 0M325.30 415.76a2.05 2.05 0 1 0 4.1 0a2.05 2.05 0 1 0 -4.1 0M325.30 413.98a2.05 2.05 0 1 0 4.1 0a2.05 2.05 0 1 0 -4.1 0M325.30 413.95a2.05 2.05 0 1 0 4.1 0a2.05 2.05 0 1 0 -4.1 0M325.30 413.71a2.05 2.05 0 1 0 4.1 0a2.05 2.05 0 1 0 -4.1 0M325.30 413.36a2.05 2.05 0 1 0 4.1 0a2.05 2.05 0 1 0 -4.1 0M325.30 412.90a2.05 2.05 0 1 0 4.1 0a2.05 2.05 0 1 0 -4.1 0M325.30 410.99a2.05 2.05 0 1 0 4.1 0a2.05 2.05 0 1 0 -4.1 0M325.30 406.81a2.05 2.05 0 1 0 4.1 0a2.05 2.05 0 1 0 -4.1 0M325.30 406.59a2.05 2.05 0 1 0 4.1 0a2.05 2.05 0 1 0 -4.1 0M325.30 406.40a2.05 2.05 0 1 0 4.1 0a2.05 2.05 0 1 0 -4.1 0M325.30 406.20a2.05 2.05 0 1 0 4.1 0a2.05 2.05 0 1 0 -4.1 0M325.30 404.38a2.05 2.05 0 1 0 4.1 0a2.05 2.05 0 1 0 -4.1 0M325.30 404.26a2.05 2.05 0 1 0 4.1 0a2.05 2.05 0 1 0 -4.1 0M325.30 403.64a2.05 2.05 0 1 0 4.1 0a2.05 2.05 0 1 0 -4.1 0M325.30 402.92a2.05 2.05 0 1 0 4.1 0a2.05 2.05 0 1 0 -4.1 0M325.30 402.15a2.05 2.05 0 1 0 4.1 0a2.05 2.05 0 1 0 -4.1 0M325.30 401.56a2.05 2.05 0 1 0 4.1 0a2.05 2.05 0 1 0 -4.1 0M325.30 401.16a2.05 2.05 0 1 0 4.1 0a2.05 2.05 0 1 0 -4.1 0M325.30 399.70a2.05 2.05 0 1 0 4.1 0a2.05 2.05 0 1 0 -4.1 0M325.30 398.49a2.05 2.05 0 1 0 4.1 0a2.05 2.05 0 1 0 -4.1 0M325.30 397.59a2.05 2.05 0 1 0 4.1 0a2.05 2.05 0 1 0 -4.1 0M325.30 397.34a2.05 2.05 0 1 0 4.1 0a2.05 2.05 0 1 0 -4.1 0M325.30 396.60a2.05 2.05 0 1 0 4.1 0a2.05 2.05 0 1 0 -4.1 0M325.30 396.20a2.05 2.05 0 1 0 4.1 0a2.05 2.05 0 1 0 -4.1 0M325.30 396.03a2.05 2.05 0 1 0 4.1 0a2.05 2.05 0 1 0 -4.1 0M325.30 395.85a2.05 2.05 0 1 0 4.1 0a2.05 2.05 0 1 0 -4.1 0M325.30 393.88a2.05 2.05 0 1 0 4.1 0a2.05 2.05 0 1 0 -4.1 0M325.30 393.73a2.05 2.05 0 1 0 4.1 0a2.05 2.05 0 1 0 -4.1 0M325.30 393.32a2.05 2.05 0 1 0 4.1 0a2.05 2.05 0 1 0 -4.1 0M325.30 391.08a2.05 2.05 0 1 0 4.1 0a2.05 2.05 0 1 0 -4.1 0M325.30 390.22a2.05 2.05 0 1 0 4.1 0a2.05 2.05 0 1 0 -4.1 0M325.30 389.49a2.05 2.05 0 1 0 4.1 0a2.05 2.05 0 1 0 -4.1 0M325.30 389.18a2.05 2.05 0 1 0 4.1 0a2.05 2.05 0 1 0 -4.1 0M325.30 388.61a2.05 2.05 0 1 0 4.1 0a2.05 2.05 0 1 0 -4.1 0M325.30 388.48a2.05 2.05 0 1 0 4.1 0a2.05 2.05 0 1 0 -4.1 0M325.30 388.36a2.05 2.05 0 1 0 4.1 0a2.05 2.05 0 1 0 -4.1 0M325.30 387.91a2.05 2.05 0 1 0 4.1 0a2.05 2.05 0 1 0 -4.1 0M325.30 387.29a2.05 2.05 0 1 0 4.1 0a2.05 2.05 0 1 0 -4.1 0M325.30 387.28a2.05 2.05 0 1 0 4.1 0a2.05 2.05 0 1 0 -4.1 0M325.30 387.05a2.05 2.05 0 1 0 4.1 0a2.05 2.05 0 1 0 -4.1 0M325.30 386.71a2.05 2.05 0 1 0 4.1 0a2.05 2.05 0 1 0 -4.1 0M325.30 386.58a2.05 2.05 0 1 0 4.1 0a2.05 2.05 0 1 0 -4.1 0M325.30 386.38a2.05 2.05 0 1 0 4.1 0a2.05 2.05 0 1 0 -4.1 0M325.30 385.85a2.05 2.05 0 1 0 4.1 0a2.05 2.05 0 1 0 -4.1 0M325.30 385.53a2.05 2.05 0 1 0 4.1 0a2.05 2.05 0 1 0 -4.1 0M325.30 384.09a2.05 2.05 0 1 0 4.1 0a2.05 2.05 0 1 0 -4.1 0M325.30 384.02a2.05 2.05 0 1 0 4.1 0a2.05 2.05 0 1 0 -4.1 0M325.30 382.43a2.05 2.05 0 1 0 4.1 0a2.05 2.05 0 1 0 -4.1 0M325.30 381.64a2.05 2.05 0 1 0 4.1 0a2.05 2.05 0 1 0 -4.1 0M325.30 380.81a2.05 2.05 0 1 0 4.1 0a2.05 2.05 0 1 0 -4.1 0M325.30 380.65a2.05 2.05 0 1 0 4.1 0a2.05 2.05 0 1 0 -4.1 0M325.30 379.95a2.05 2.05 0 1 0 4.1 0a2.05 2.05 0 1 0 -4.1 0M325.30 379.74a2.05 2.05 0 1 0 4.1 0a2.05 2.05 0 1 0 -4.1 0M325.30 379.32a2.05 2.05 0 1 0 4.1 0a2.05 2.05 0 1 0 -4.1 0M325.30 378.57a2.05 2.05 0 1 0 4.1 0a2.05 2.05 0 1 0 -4.1 0M325.30 375.54a2.05 2.05 0 1 0 4.1 0a2.05 2.05 0 1 0 -4.1 0M325.30 375.22a2.05 2.05 0 1 0 4.1 0a2.05 2.05 0 1 0 -4.1 0M325.30 373.62a2.05 2.05 0 1 0 4.1 0a2.05 2.05 0 1 0 -4.1 0M325.30 370.02a2.05 2.05 0 1 0 4.1 0a2.05 2.05 0 1 0 -4.1 0M325.30 369.63a2.05 2.05 0 1 0 4.1 0a2.05 2.05 0 1 0 -4.1 0M325.30 369.61a2.05 2.05 0 1 0 4.1 0a2.05 2.05 0 1 0 -4.1 0M325.30 369.42a2.05 2.05 0 1 0 4.1 0a2.05 2.05 0 1 0 -4.1 0M325.30 368.43a2.05 2.05 0 1 0 4.1 0a2.05 2.05 0 1 0 -4.1 0M325.30 367.24a2.05 2.05 0 1 0 4.1 0a2.05 2.05 0 1 0 -4.1 0M325.30 366.90a2.05 2.05 0 1 0 4.1 0a2.05 2.05 0 1 0 -4.1 0M325.30 366.46a2.05 2.05 0 1 0 4.1 0a2.05 2.05 0 1 0 -4.1 0M325.30 366.16a2.05 2.05 0 1 0 4.1 0a2.05 2.05 0 1 0 -4.1 0M325.30 363.50a2.05 2.05 0 1 0 4.1 0a2.05 2.05 0 1 0 -4.1 0M325.30 363.21a2.05 2.05 0 1 0 4.1 0a2.05 2.05 0 1 0 -4.1 0M325.30 362.85a2.05 2.05 0 1 0 4.1 0a2.05 2.05 0 1 0 -4.1 0M325.30 362.10a2.05 2.05 0 1 0 4.1 0a2.05 2.05 0 1 0 -4.1 0M325.30 361.75a2.05 2.05 0 1 0 4.1 0a2.05 2.05 0 1 0 -4.1 0M325.30 361.52a2.05 2.05 0 1 0 4.1 0a2.05 2.05 0 1 0 -4.1 0M325.30 360.27a2.05 2.05 0 1 0 4.1 0a2.05 2.05 0 1 0 -4.1 0M325.30 360.13a2.05 2.05 0 1 0 4.1 0a2.05 2.05 0 1 0 -4.1 0M325.30 358.41a2.05 2.05 0 1 0 4.1 0a2.05 2.05 0 1 0 -4.1 0M325.30 356.45a2.05 2.05 0 1 0 4.1 0a2.05 2.05 0 1 0 -4.1 0M325.30 355.45a2.05 2.05 0 1 0 4.1 0a2.05 2.05 0 1 0 -4.1 0M325.30 355.39a2.05 2.05 0 1 0 4.1 0a2.05 2.05 0 1 0 -4.1 0M325.30 354.51a2.05 2.05 0 1 0 4.1 0a2.05 2.05 0 1 0 -4.1 0M325.30 353.99a2.05 2.05 0 1 0 4.1 0a2.05 2.05 0 1 0 -4.1 0M325.30 349.53a2.05 2.05 0 1 0 4.1 0a2.05 2.05 0 1 0 -4.1 0M325.30 348.15a2.05 2.05 0 1 0 4.1 0a2.05 2.05 0 1 0 -4.1 0M325.30 346.81a2.05 2.05 0 1 0 4.1 0a2.05 2.05 0 1 0 -4.1 0M325.30 342.88a2.05 2.05 0 1 0 4.1 0a2.05 2.05 0 1 0 -4.1 0M325.30 339.86a2.05 2.05 0 1 0 4.1 0a2.05 2.05 0 1 0 -4.1 0M325.30 328.80a2.05 2.05 0 1 0 4.1 0a2.05 2.05 0 1 0 -4.1 0M325.30 326.03a2.05 2.05 0 1 0 4.1 0a2.05 2.05 0 1 0 -4.1 0M325.30 320.50a2.05 2.05 0 1 0 4.1 0a2.05 2.05 0 1 0 -4.1 0M325.30 309.44a2.05 2.05 0 1 0 4.1 0a2.05 2.05 0 1 0 -4.1 0" fill="#ff0000"/>
<text x="266.67" y="443.90" font-size="11.6">0</text>
<text x="260.22" y="388.60" font-size="11.6">20</text>
<text x="260.22" y="333.30" font-size="11.6">40</text>
<text x="260.22" y="278.00" font-size="11.6">60</text>
<text x="304.77" y="458.90" font-size="12.00" textLength="44.90" lengthAdjust="spacingAndGlyphs">Baseline</text>
<text x="371.84" y="458.90" font-size="12.00" textLength="53.83" lengthAdjust="spacingAndGlyphs">Follow-up</text>
<path d="M328.0 263.8H399.7M328.0 258.0V269.5M399.7 258.0V269.5" stroke="#000" stroke-width="1.8" fill="none"/>
<text x="357.33" y="257.20" font-size="11.50" textLength="12.66" lengthAdjust="spacingAndGlyphs">ns</text>
<text transform="translate(252.00 412.55) rotate(-90)" x="0" y="0" font-size="14.83" textLength="115.33" lengthAdjust="spacingAndGlyphs">UPDRS-III scores</text>
<text x="238.03" y="240.00" font-size="19.80" textLength="9.63" lengthAdjust="spacingAndGlyphs">E</text>
<path d="M518.1 305.7V438.7H684.5" stroke="#000" stroke-width="1.5" fill="none"/>
<path d="M512.5 438.70H518.1M512.5 372.50H518.1M512.5 306.30H518.1M514.8000000000001 405.60H518.1M514.8000000000001 339.40H518.1M565.42 438.7V444.0M636.6 438.7V444.0" stroke="#000" stroke-width="1.2" fill="none"/>
<path d="M634.55 431.68a2.05 2.05 0 1 0 4.1 0a2.05 2.05 0 1 0 -4.1 0M634.55 427.45a2.05 2.05 0 1 0 4.1 0a2.05 2.05 0 1 0 -4.1 0M634.55 426.78a2.05 2.05 0 1 0 4.1 0a2.05 2.05 0 1 0 -4.1 0M634.55 425.46a2.05 2.05 0 1 0 4.1 0a2.05 2.05 0 1 0 -4.1 0M634.55 421.40a2.05 2.05 0 1 0 4.1 0a2.05 2.05 0 1 0 -4.1 0M634.55 420.54a2.05 2.05 0 1 0 4.1 0a2.05 2.05 0 1 0 -4.1 0M634.55 420.24a2.05 2.05 0 1 0 4.1 0a2.05 2.05 0 1 0 -4.1 0M634.55 419.03a2.05 2.05 0 1 0 4.1 0a2.05 2.05 0 1 0 -4.1 0M634.55 417.24a2.05 2.05 0 1 0 4.1 0a2.05 2.05 0 1 0 -4.1 0M634.55 415.64a2.05 2.05 0 1 0 4.1 0a2.05 2.05 0 1 0 -4.1 0M634.55 415.09a2.05 2.05 0 1 0 4.1 0a2.05 2.05 0 1 0 -4.1 0M634.55 414.24a2.05 2.05 0 1 0 4.1 0a2.05 2.05 0 1 0 -4.1 0M634.55 412.39a2.05 2.05 0 1 0 4.1 0a2.05 2.05 0 1 0 -4.1 0M634.55 412.01a2.05 2.05 0 1 0 4.1 0a2.05 2.05 0 1 0 -4.1 0M634.55 411.34a2.05 2.05 0 1 0 4.1 0a2.05 2.05 0 1 0 -4.1 0M634.55 411.05a2.05 2.05 0 1 0 4.1 0a2.05 2.05 0 1 0 -4.1 0M634.55 410.80a2.05 2.05 0 1 0 4.1 0a2.05 2.05 0 1 0 -4.1 0M634.55 409.78a2.05 2.05 0 1 0 4.1 0a2.05 2.05 0 1 0 -4.1 0M634.55 409.78a2.05 2.05 0 1 0 4.1 0a2.05 2.05 0 1 0 -4.1 0M634.55 409.61a2.05 2.05 0 1 0 4.1 0a2.05 2.05 0 1 0 -4.1 0M634.55 409.31a2.05 2.05 0 1 0 4.1 0a2.05 2.05 0 1 0 -4.1 0M634.55 408.42a2.05 2.05 0 1 0 4.1 0a2.05 2.05 0 1 0 -4.1 0M634.55 408.28a2.05 2.05 0 1 0 4.1 0a2.05 2.05 0 1 0 -4.1 0M634.55 408.08a2.05 2.05 0 1 0 4.1 0a2.05 2.05 0 1 0 -4.1 0M634.55 407.61a2.05 2.05 0 1 0 4.1 0a2.05 2.05 0 1 0 -4.1 0M634.55 407.41a2.05 2.05 0 1 0 4.1 0a2.05 2.05 0 1 0 -4.1 0M634.55 407.34a2.05 2.05 0 1 0 4.1 0a2.05 2.05 0 1 0 -4.1 0M634.55 407.06a2.05 2.05 0 1 0 4.1 0a2.05 2.05 0 1 0 -4.1 0M634.55 405.14a2.05 2.05 0 1 0 4.1 0a2.05 2.05 0 1 0 -4.1 0M634.55 404.64a2.05 2.05 0 1 0 4.1 0a2.05 2.05 0 1 0 -4.1 0M634.55 403.78a2.05 2.05 0 1 0 4.1 0a2.05 2.05 0 1 0 -4.1 0M634.55 403.19a2.05 2.05 0 1 0 4.1 0a2.05 2.05 0 1 0 -4.1 0M634.55 402.83a2.05 2.05 0 1 0 4.1 0a2.05 2.05 0 1 0 -4.1 0M634.55 402.83a2.05 2.05 0 1 0 4.1 0a2.05 2.05 0 1 0 -4.1 0M634.55 402.49a2.05 2.05 0 1 0 4.1 0a2.05 2.05 0 1 0 -4.1 0M634.55 402.44a2.05 2.05 0 1 0 4.1 0a2.05 2.05 0 1 0 -4.1 0M634.55 402.15a2.05 2.05 0 1 0 4.1 0a2.05 2.05 0 1 0 -4.1 0M634.55 400.78a2.05 2.05 0 1 0 4.1 0a2.05 2.05 0 1 0 -4.1 0M634.55 400.46a2.05 2.05 0 1 0 4.1 0a2.05 2.05 0 1 0 -4.1 0M634.55 400.31a2.05 2.05 0 1 0 4.1 0a2.05 2.05 0 1 0 -4.1 0M634.55 400.28a2.05 2.05 0 1 0 4.1 0a2.05 2.05 0 1 0 -4.1 0M634.55 400.13a2.05 2.05 0 1 0 4.1 0a2.05 2.05 0 1 0 -4.1 0M634.55 399.34a2.05 2.05 0 1 0 4.1 0a2.05 2.05 0 1 0 -4.1 0M634.55 399.29a2.05 2.05 0 1 0 4.1 0a2.05 2.05 0 1 0 -4.1 0M634.55 399.19a2.05 2.05 0 1 0 4.1 0a2.05 2.05 0 1 0 -4.1 0M634.55 398.82a2.05 2.05 0 1 0 4.1 0a2.05 2.05 0 1 0 -4.1 0M634.55 398.43a2.05 2.05 0 1 0 4.1 0a2.05 2.05 0 1 0 -4.1 0M634.55 398.01a2.05 2.05 0 1 0 4.1 0a2.05 2.05 0 1 0 -4.1 0M634.55 397.53a2.05 2.05 0 1 0 4.1 0a2.05 2.05 0 1 0 -4.1 0M634.55 397.24a2.05 2.05 0 1 0 4.1 0a2.05 2.05 0 1 0 -4.1 0M634.55 397.00a2.05 2.05 0 1 0 4.1 0a2.05 2.05 0 1 0 -4.1 0M634.55 396.91a2.05 2.05 0 1 0 4.1 0a2.05 2.05 0 1 0 -4.1 0M634.55 396.41a2.05 2.05 0 1 0 4.1 0a2.05 2.05 0 1 0 -4.1 0M634.55 395.98a2.05 2.05 0 1 0 4.1 0a2.05 2.05 0 1 0 -4.1 0M634.55 394.70a2.05 2.05 0 1 0 4.1 0a2.05 2.05 0 1 0 -4.1 0M634.55 394.48a2.05 2.05 0 1 0 4.1 0a2.05 2.05 0 1 0 -4.1 0M634.55 394.29a2.05 2.05 0 1 0 4.1 0a2.05 2.05 0 1 0 -4.1 0M634.55 394.28a2.05 2.05 0 1 0 4.1 0a2.05 2.05 0 1 0 -4.1 0M634.55 394.18a2.05 2.05 0 1 0 4.1 0a2.05 2.05 0 1 0 -4.1 0M634.55 392.80a2.05 2.05 0 1 0 4.1 0a2.05 2.05 0 1 0 -4.1 0M634.55 392.66a2.05 2.05 0 1 0 4.1 0a2.05 2.05 0 1 0 -4.1 0M634.55 391.34a2.05 2.05 0 1 0 4.1 0a2.05 2.05 0 1 0 -4.1 0M634.55 391.33a2.05 2.05 0 1 0 4.1 0a2.05 2.05 0 1 0 -4.1 0M634.55 390.31a2.05 2.05 0 1 0 4.1 0a2.05 2.05 0 1 0 -4.1 0M634.55 389.81a2.05 2.05 0 1 0 4.1 0a2.05 2.05 0 1 0 -4.1 0M634.55 389.16a2.05 2.05 0 1 0 4.1 0a2.05 2.05 0 1 0 -4.1 0M634.55 388.80a2.05 2.05 0 1 0 4.1 0a2.05 2.05 0 1 0 -4.1 0M634.55 388.58a2.05 2.05 0 1 0 4.1 0a2.05 2.05 0 1 0 -4.1 0M634.55 388.05a2.05 2.05 0 1 0 4.1 0a2.05 2.05 0 1 0 -4.1 0M634.55 387.88a2.05 2.05 0 1 0 4.1 0a2.05 2.05 0 1 0 -4.1 0M634.55 387.84a2.05 2.05 0 1 0 4.1 0a2.05 2.05 0 1 0 -4.1 0M634.55 387.01a2.05 2.05 0 1 0 4.1 0a2.05 2.05 0 1 0 -4.1 0M634.55 386.95a2.05 2.05 0 1 0 4.1 0a2.05 2.05 0 1 0 -4.1 0M634.55 386.83a2.05 2.05 0 1 0 4.1 0a2.05 2.05 0 1 0 -4.1 0M634.55 386.61a2.05 2.05 0 1 0 4.1 0a2.05 2.05 0 1 0 -4.1 0M634.55 386.51a2.05 2.05 0 1 0 4.1 0a2.05 2.05 0 1 0 -4.1 0M634.55 386.25a2.05 2.05 0 1 0 4.1 0a2.05 2.05 0 1 0 -4.1 0M634.55 386.24a2.05 2.05 0 1 0 4.1 0a2.05 2.05 0 1 0 -4.1 0M634.55 385.48a2.05 2.05 0 1 0 4.1 0a2.05 2.05 0 1 0 -4.1 0M634.55 385.19a2.05 2.05 0 1 0 4.1 0a2.05 2.05 0 1 0 -4.1 0M634.55 384.90a2.05 2.05 0 1 0 4.1 0a2.05 2.05 0 1 0 -4.1 0M634.55 383.65a2.05 2.05 0 1 0 4.1 0a2.05 2.05 0 1 0 -4.1 0M634.55 383.61a2.05 2.05 0 1 0 4.1 0a2.05 2.05 0 1 0 -4.1 0M634.55 383.22a2.05 2.05 0 1 0 4.1 0a2.05 2.05 0 1 0 -4.1 0M634.55 381.99a2.05 2.05 0 1 0 4.1 0a2.05 2.05 0 1 0 -4.1 0M634.55 381.75a2.05 2.05 0 1 0 4.1 0a2.05 2.05 0 1 0 -4.1 0M634.55 381.06a2.05 2.05 0 1 0 4.1 0a2.05 2.05 0 1 0 -4.1 0M634.55 380.66a2.05 2.05 0 1 0 4.1 0a2.05 2.05 0 1 0 -4.1 0M634.55 380.42a2.05 2.05 0 1 0 4.1 0a2.05 2.05 0 1 0 -4.1 0M634.55 379.95a2.05 2.05 0 1 0 4.1 0a2.05 2.05 0 1 0 -4.1 0M634.55 379.76a2.05 2.05 0 1 0 4.1 0a2.05 2.05 0 1 0 -4.1 0M634.55 379.51a2.05 2.05 0 1 0 4.1 0a2.05 2.05 0 1 0 -4.1 0M634.55 379.32a2.05 2.05 0 1 0 4.1 0a2.05 2.05 0 1 0 -4.1 0M634.55 378.55a2.05 2.05 0 1 0 4.1 0a2.05 2.05 0 1 0 -4.1 0M634.55 378.20a2.05 2.05 0 1 0 4.1 0a2.05 2.05 0 1 0 -4.1 0M634.55 377.18a2.05 2.05 0 1 0 4.1 0a2.05 2.05 0 1 0 -4.1 0M634.55 375.97a2.05 2.05 0 1 0 4.1 0a2.05 2.05 0 1 0 -4.1 0M634.55 375.22a2.05 2.05 0 1 0 4.1 0a2.05 2.05 0 1 0 -4.1 0M634.55 375.05a2.05 2.05 0 1 0 4.1 0a2.05 2.05 0 1 0 -4.1 0M634.55 374.95a2.05 2.05 0 1 0 4.1 0a2.05 2.05 0 1 0 -4.1 0M634.55 374.07a2.05 2.05 0 1 0 4.1 0a2.05 2.05 0 1 0 -4.1 0M634.55 372.75a2.05 2.05 0 1 0 4.1 0a2.05 2.05 0 1 0 -4.1 0M634.55 372.57a2.05 2.05 0 1 0 4.1 0a2.05 2.05 0 1 0 -4.1 0M634.55 372.50a2.05 2.05 0 1 0 4.1 0a2.05 2.05 0 1 0 -4.1 0M634.55 371.65a2.05 2.05 0 1 0 4.1 0a2.05 2.05 0 1 0 -4.1 0M634.55 371.64a2.05 2.05 0 1 0 4.1 0a2.05 2.05 0 1 0 -4.1 0M634.55 370.79a2.05 2.05 0 1 0 4.1 0a2.05 2.05 0 1 0 -4.1 0M634.55 370.72a2.05 2.05 0 1 0 4.1 0a2.05 2.05 0 1 0 -4.1 0M634.55 370.57a2.05 2.05 0 1 0 4.1 0a2.05 2.05 0 1 0 -4.1 0M634.55 370.19a2.05 2.05 0 1 0 4.1 0a2.05 2.05 0 1 0 -4.1 0M634.55 367.66a2.05 2.05 0 1 0 4.1 0a2.05 2.05 0 1 0 -4.1 0M634.55 366.54a2.05 2.05 0 1 0 4.1 0a2.05 2.05 0 1 0 -4.1 0M634.55 366.32a2.05 2.05 0 1 0 4.1 0a2.05 2.05 0 1 0 -4.1 0M634.55 366.24a2.05 2.05 0 1 0 4.1 0a2.05 2.05 0 1 0 -4.1 0M634.55 366.18a2.05 2.05 0 1 0 4.1 0a2.05 2.05 0 1 0 -4.1 0M634.55 364.75a2.05 2.05 0 1 0 4.1 0a2.05 2.05 0 1 0 -4.1 0M634.55 364.12a2.05 2.05 0 1 0 4.1 0a2.05 2.05 0 1 0 -4.1 0M634.55 363.01a2.05 2.05 0 1 0 4.1 0a2.05 2.05 0 1 0 -4.1 0M634.55 361.84a2.05 2.05 0 1 0 4.1 0a2.05 2.05 0 1 0 -4.1 0M634.55 360.75a2.05 2.05 0 1 0 4.1 0a2.05 2.05 0 1 0 -4.1 0M634.55 359.26a2.05 2.05 0 1 0 4.1 0a2.05 2.05 0 1 0 -4.1 0M634.55 353.17a2.05 2.05 0 1 0 4.1 0a2.05 2.05 0 1 0 -4.1 0M634.55 351.32a2.05 2.05 0 1 0 4.1 0a2.05 2.05 0 1 0 -4.1 0M634.55 348.80a2.05 2.05 0 1 0 4.1 0a2.05 2.05 0 1 0 -4.1 0M634.55 346.81a2.05 2.05 0 1 0 4.1 0a2.05 2.05 0 1 0 -4.1 0M634.55 343.64a2.05 2.05 0 1 0 4.1 0a2.05 2.05 0 1 0 -4.1 0M634.55 342.05a2.05 2.05 0 1 0 4.1 0a2.05 2.05 0 1 0 -4.1 0M634.55 336.22a2.05 2.05 0 1 0 4.1 0a2.05 2.05 0 1 0 -4.1 0M634.55 334.10a2.05 2.05 0 1 0 4.1 0a2.05 2.05 0 1 0 -4.1 0M634.55 331.46a2.05 2.05 0 1 0 4.1 0a2.05 2.05 0 1 0 -4.1 0M634.55 322.19a2.05 2.05 0 1 0 4.1 0a2.05 2.05 0 1 0 -4.1 0M634.55 311.60a2.05 2.05 0 1 0 4.1 0a2.05 2.05 0 1 0 -4.1 0" fill="#0000ff"/>
<path d="M565.4 383.36L636.6 380.66M565.4 386.30L636.6 409.61M565.4 413.45L636.6 398.01M565.4 406.40L636.6 379.51M565.4 391.73L636.6 370.57M565.4 415.02L636.6 419.03M565.4 388.88L636.6 387.88M565.4 381.63L636.6 403.78M565.4 359.04L636.6 371.64M565.4 382.90L636.6 386.25M565.4 367.32L636.6 384.90M565.4 362.29L636.6 388.80M565.4 396.99L636.6 408.08M565.4 375.21L636.6 385.48M565.4 413.87L636.6 370.72M565.4 400.67L636.6 400.28M565.4 394.97L636.6 383.65M565.4 388.42L636.6 417.24M565.4 370.06L636.6 366.32M565.4 397.39L636.6 397.00M565.4 401.40L636.6 388.05M565.4 403.47L636.6 394.70M565.4 365.41L636.6 379.76M565.4 375.82L636.6 361.84M565.4 424.03L636.6 396.91M565.4 385.66L636.6 400.31M565.4 419.56L636.6 408.42M565.4 401.90L636.6 397.24M565.4 415.07L636.6 395.98M565.4 418.47L636.6 412.01M565.4 401.42L636.6 377.18M565.4 359.72L636.6 389.81M565.4 423.86L636.6 404.64M565.4 398.72L636.6 383.22M565.4 415.41L636.6 402.15M565.4 373.40L636.6 367.66M565.4 420.33L636.6 383.61M565.4 416.31L636.6 403.19M565.4 399.56L636.6 390.31M565.4 377.91L636.6 381.99M565.4 397.78L636.6 366.18M565.4 404.46L636.6 421.40M565.4 368.30L636.6 360.75M565.4 358.35L636.6 386.61M565.4 387.13L636.6 410.80M565.4 385.57L636.6 402.49M565.4 380.18L636.6 394.29M565.4 363.66L636.6 366.54M565.4 358.23L636.6 405.14M565.4 406.32L636.6 394.28M565.4 383.12L636.6 386.83M565.4 366.69L636.6 372.57M565.4 378.53L636.6 402.83M565.4 361.72L636.6 374.07M565.4 357.42L636.6 374.95M565.4 385.27L636.6 388.58M565.4 409.80L636.6 412.39M565.4 394.93L636.6 397.53M565.4 417.06L636.6 366.24M565.4 417.02L636.6 411.34M565.4 370.75L636.6 372.75M565.4 396.54L636.6 420.54M565.4 386.99L636.6 402.83M565.4 367.33L636.6 379.32M565.4 412.26L636.6 411.05M565.4 389.75L636.6 370.19M565.4 387.59L636.6 379.95M565.4 389.82L636.6 381.06M565.4 378.62L636.6 386.24M565.4 409.74L636.6 398.43M565.4 364.71L636.6 378.20M565.4 391.96L636.6 363.01M565.4 418.21L636.6 385.19M565.4 390.99L636.6 375.97M565.4 350.28L636.6 364.75M565.4 381.63L636.6 371.65M565.4 381.02L636.6 407.34M565.4 392.86L636.6 392.80M565.4 427.60L636.6 402.44M565.4 407.54L636.6 387.01M565.4 426.51L636.6 386.95M565.4 364.24L636.6 407.61M565.4 379.21L636.6 394.48M565.4 396.42L636.6 415.09M565.4 353.12L636.6 370.79M565.4 427.26L636.6 400.46M565.4 390.22L636.6 409.31M565.4 396.72L636.6 408.28M565.4 376.57L636.6 380.42M565.4 383.37L636.6 409.78M565.4 406.78L636.6 400.13M565.4 372.75L636.6 399.19M565.4 419.10L636.6 387.84M565.4 389.27L636.6 399.29M565.4 410.64L636.6 414.24M565.4 402.10L636.6 420.24M565.4 359.15L636.6 364.12M565.4 376.08L636.6 391.33M565.4 384.27L636.6 399.34M565.4 408.43L636.6 392.66M565.4 401.65L636.6 398.82M565.4 384.27L636.6 386.51M565.4 427.27L636.6 415.64M565.4 408.22L636.6 389.16M565.4 419.38L636.6 394.18M565.4 372.54L636.6 375.05M565.4 416.88L636.6 409.78M565.4 419.72L636.6 400.78M565.4 365.83L636.6 407.41M565.4 413.01L636.6 407.06M565.4 405.18L636.6 375.22M565.4 394.96L636.6 391.34M565.4 420.55L636.6 381.75M565.4 386.72L636.6 378.55M565.4 378.62L636.6 396.41M565.4 346.02L636.6 372.50M565.4 373.82L636.6 311.60M565.4 364.56L636.6 322.19M565.4 372.50L636.6 331.46M565.4 359.26L636.6 334.10M565.4 356.61L636.6 336.22M565.4 379.12L636.6 342.05M565.4 351.32L636.6 343.64M565.4 365.88L636.6 346.81M565.4 355.29L636.6 348.80M565.4 385.74L636.6 351.32M565.4 361.91L636.6 353.17M565.4 369.85L636.6 359.26M565.4 428.11L636.6 431.68M565.4 425.46L636.6 426.78M565.4 422.81L636.6 425.46M565.4 420.16L636.6 427.45M565.4 426.78L636.6 426.78M565.4 412.22L636.6 425.46" stroke="#00ff00" stroke-width="0.9" fill="none"/>
<path d="M563.37 428.11a2.05 2.05 0 1 0 4.1 0a2.05 2.05 0 1 0 -4.1 0M563.37 427.60a2.05 2.05 0 1 0 4.1 0a2.05 2.05 0 1 0 -4.1 0M563.37 427.27a2.05 2.05 0 1 0 4.1 0a2.05 2.05 0 1 0 -4.1 0M563.37 427.26a2.05 2.05 0 1 0 4.1 0a2.05 2.05 0 1 0 -4.1 0M563.37 426.78a2.05 2.05 0 1 0 4.1 0a2.05 2.05 0 1 0 -4.1 0M563.37 426.51a2.05 2.05 0 1 0 4.1 0a2.05 2.05 0 1 0 -4.1 0M563.37 425.46a2.05 2.05 0 1 0 4.1 0a2.05 2.05 0 1 0 -4.1 0M563.37 424.03a2.05 2.05 0 1 0 4.1 0a2.05 2.05 0 1 0 -4.1 0M563.37 423.86a2.05 2.05 0 1 0 4.1 0a2.05 2.05 0 1 0 -4.1 0M563.37 422.81a2.05 2.05 0 1 0 4.1 0a2.05 2.05 0 1 0 -4.1 0M563.37 420.55a2.05 2.05 0 1 0 4.1 0a2.05 2.05 0 1 0 -4.1 0M563.37 420.33a2.05 2.05 0 1 0 4.1 0a2.05 2.05 0 1 0 -4.1 0M563.37 420.16a2.05 2.05 0 1 0 4.1 0a2.05 2.05 0 1 0 -4.1 0M563.37 419.72a2.05 2.05 0 1 0 4.1 0a2.05 2.05 0 1 0 -4.1 0M563.37 419.56a2.05 2.05 0 1 0 4.1 0a2.05 2.05 0 1 0 -4.1 0M563.37 419.38a2.05 2.05 0 1 0 4.1 0a2.05 2.05 0 1 0 -4.1 0M563.37 419.10a2.05 2.05 0 1 0 4.1 0a2.05 2.05 0 1 0 -4.1 0M563.37 418.47a2.05 2.05 0 1 0 4.1 0a2.05 2.05 0 1 0 -4.1 0M563.37 418.21a2.05 2.05 0 1 0 4.1 0a2.05 2.05 0 1 0 -4.1 0M563.37 417.06a2.05 2.05 0 1 0 4.1 0a2.05 2.05 0 1 0 -4.1 0M563.37 417.02a2.05 2.05 0 1 0 4.1 0a2.05 2.05 0 1 0 -4.1 0M563.37 416.88a2.05 2.05 0 1 0 4.1 0a2.05 2.05 0 1 0 -4.1 0M563.37 416.31a2.05 2.05 0 1 0 4.1 0a2.05 2.05 0 1 0 -4.1 0M563.37 415.41a2.05 2.05 0 1 0 4.1 0a2.05 2.05 0 1 0 -4.1 0M563.37 415.07a2.05 2.05 0 1 0 4.1 0a2.05 2.05 0 1 0 -4.1 0M563.37 415.02a2.05 2.05 0 1 0 4.1 0a2.05 2.05 0 1 0 -4.1 0M563.37 413.87a2.05 2.05 0 1 0 4.1 0a2.05 2.05 0 1 0 -4.1 0M563.37 413.45a2.05 2.05 0 1 0 4.1 0a2.05 2.05 0 1 0 -4.1 0M563.37 413.01a2.05 2.05 0 1 0 4.1 0a2.05 2.05 0 1 0 -4.1 0M563.37 412.26a2.05 2.05 0 1 0 4.1 0a2.05 2.05 0 1 0 -4.1 0M563.37 412.22a2.05 2.05 0 1 0 4.1 0a2.05 2.05 0 1 0 -4.1 0M563.37 410.64a2.05 2.05 0 1 0 4.1 0a2.05 2.05 0 1 0 -4.1 0M563.37 409.80a2.05 2.05 0 1 0 4.1 0a2.05 2.05 0 1 0 -4.1 0M563.37 409.74a2.05 2.05 0 1 0 4.1 0a2.05 2.05 0 1 0 -4.1 0M563.37 408.43a2.05 2.05 0 1 0 4.1 0a2.05 2.05 0 1 0 -4.1 0M563.37 408.22a2.05 2.05 0 1 0 4.1 0a2.05 2.05 0 1 0 -4.1 0M563.37 407.54a2.05 2.05 0 1 0 4.1 0a2.05 2.05 0 1 0 -4.1 0M563.37 406.78a2.05 2.05 0 1 0 4.1 0a2.05 2.05 0 1 0 -4.1 0M563.37 406.40a2.05 2.05 0 1 0 4.1 0a2.05 2.05 0 1 0 -4.1 0M563.37 406.32a2.05 2.05 0 1 0 4.1 0a2.05 2.05 0 1 0 -4.1 0M563.37 405.18a2.05 2.05 0 1 0 4.1 0a2.05 2.05 0 1 0 -4.1 0M563.37 404.46a2.05 2.05 0 1 0 4.1 0a2.05 2.05 0 1 0 -4.1 0M563.37 403.47a2.05 2.05 0 1 0 4.1 0a2.05 2.05 0 1 0 -4.1 0M563.37 402.10a2.05 2.05 0 1 0 4.1 0a2.05 2.05 0 1 0 -4.1 0M563.37 401.90a2.05 2.05 0 1 0 4.1 0a2.05 2.05 0 1 0 -4.1 0M563.37 401.65a2.05 2.05 0 1 0 4.1 0a2.05 2.05 0 1 0 -4.1 0M563.37 401.42a2.05 2.05 0 1 0 4.1 0a2.05 2.05 0 1 0 -4.1 0M563.37 401.40a2.05 2.05 0 1 0 4.1 0a2.05 2.05 0 1 0 -4.1 0M563.37 400.67a2.05 2.05 0 1 0 4.1 0a2.05 2.05 0 1 0 -4.1 0M563.37 399.56a2.05 2.05 0 1 0 4.1 0a2.05 2.05 0 1 0 -4.1 0M563.37 398.72a2.05 2.05 0 1 0 4.1 0a2.05 2.05 0 1 0 -4.1 0M563.37 397.78a2.05 2.05 0 1 0 4.1 0a2.05 2.05 0 1 0 -4.1 0M563.37 397.39a2.05 2.05 0 1 0 4.1 0a2.05 2.05 0 1 0 -4.1 0M563.37 396.99a2.05 2.05 0 1 0 4.1 0a2.05 2.05 0 1 0 -4.1 0M563.37 396.72a2.05 2.05 0 1 0 4.1 0a2.05 2.05 0 1 0 -4.1 0M563.37 396.54a2.05 2.05 0 1 0 4.1 0a2.05 2.05 0 1 0 -4.1 0M563.37 396.42a2.05 2.05 0 1 0 4.1 0a2.05 2.05 0 1 0 -4.1 0M563.37 394.97a2.05 2.05 0 1 0 4.1 0a2.05 2.05 0 1 0 -4.1 0M563.37 394.96a2.05 2.05 0 1 0 4.1 0a2.05 2.05 0 1 0 -4.1 0M563.37 394.93a2.05 2.05 0 1 0 4.1 0a2.05 2.05 0 1 0 -4.1 0M563.37 392.86a2.05 2.05 0 1 0 4.1 0a2.05 2.05 0 1 0 -4.1 0M563.37 391.96a2.05 2.05 0 1 0 4.1 0a2.05 2.05 0 1 0 -4.1 0M563.37 391.73a2.05 2.05 0 1 0 4.1 0a2.05 2.05 0 1 0 -4.1 0M563.37 390.99a2.05 2.05 0 1 0 4.1 0a2.05 2.05 0 1 0 -4.1 0M563.37 390.22a2.05 2.05 0 1 0 4.1 0a2.05 2.05 0 1 0 -4.1 0M563.37 389.82a2.05 2.05 0 1 0 4.1 0a2.05 2.05 0 1 0 -4.1 0M563.37 389.75a2.05 2.05 0 1 0 4.1 0a2.05 2.05 0 1 0 -4.1 0M563.37 389.27a2.05 2.05 0 1 0 4.1 0a2.05 2.05 0 1 0 -4.1 0M563.37 388.88a2.05 2.05 0 1 0 4.1 0a2.05 2.05 0 1 0 -4.1 0M563.37 388.42a2.05 2.05 0 1 0 4.1 0a2.05 2.05 0 1 0 -4.1 0M563.37 387.59a2.05 2.05 0 1 0 4.1 0a2.05 2.05 0 1 0 -4.1 0M563.37 387.13a2.05 2.05 0 1 0 4.1 0a2.05 2.05 0 1 0 -4.1 0M563.37 386.99a2.05 2.05 0 1 0 4.1 0a2.05 2.05 0 1 0 -4.1 0M563.37 386.72a2.05 2.05 0 1 0 4.1 0a2.05 2.05 0 1 0 -4.1 0M563.37 386.30a2.05 2.05 0 1 0 4.1 0a2.05 2.05 0 1 0 -4.1 0M563.37 385.74a2.05 2.05 0 1 0 4.1 0a2.05 2.05 0 1 0 -4.1 0M563.37 385.66a2.05 2.05 0 1 0 4.1 0a2.05 2.05 0 1 0 -4.1 0M563.37 385.57a2.05 2.05 0 1 0 4.1 0a2.05 2.05 0 1 0 -4.1 0M563.37 385.27a2.05 2.05 0 1 0 4.1 0a2.05 2.05 0 1 0 -4.1 0M563.37 384.27a2.05 2.05 0 1 0 4.1 0a2.05 2.05 0 1 0 -4.1 0M563.37 384.27a2.05 2.05 0 1 0 4.1 0a2.05 2.05 0 1 0 -4.1 0M563.37 383.37a2.05 2.05 0 1 0 4.1 0a2.05 2.05 0 1 0 -4.1 0M563.37 383.36a2.05 2.05 0 1 0 4.1 0a2.05 2.05 0 1 0 -4.1 0M563.37 383.12a2.05 2.05 0 1 0 4.1 0a2.05 2.05 0 1 0 -4.1 0M563.37 382.90a2.05 2.05 0 1 0 4.1 0a2.05 2.05 0 1 0 -4.1 0M563.37 381.63a2.05 2.05 0 1 0 4.1 0a2.05 2.05 0 1 0 -4.1 0M563.37 381.63a2.05 2.05 0 1 0 4.1 0a2.05 2.05 0 1 0 -4.1 0M563.37 381.02a2.05 2.05 0 1 0 4.1 0a2.05 2.05 0 1 0 -4.1 0M563.37 380.18a2.05 2.05 0 1 0 4.1 0a2.05 2.05 0 1 0 -4.1 0M563.37 379.21a2.05 2.05 0 1 0 4.1 0a2.05 2.05 0 1 0 -4.1 0M563.37 379.12a2.05 2.05 0 1 0 4.1 0a2.05 2.05 0 1 0 -4.1 0M563.37 378.62a2.05 2.05 0 1 0 4.1 0a2.05 2.05 0 1 0 -4.1 0M563.37 378.62a2.05 2.05 0 1 0 4.1 0a2.05 2.05 0 1 0 -4.1 0M563.37 378.53a2.05 2.05 0 1 0 4.1 0a2.05 2.05 0 1 0 -4.1 0M563.37 377.91a2.05 2.05 0 1 0 4.1 0a2.05 2.05 0 1 0 -4.1 0M563.37 376.57a2.05 2.05 0 1 0 4.1 0a2.05 2.05 0 1 0 -4.1 0M563.37 376.08a2.05 2.05 0 1 0 4.1 0a2.05 2.05 0 1 0 -4.1 0M563.37 375.82a2.05 2.05 0 1 0 4.1 0a2.05 2.05 0 1 0 -4.1 0M563.37 375.21a2.05 2.05 0 1 0 4.1 0a2.05 2.05 0 1 0 -4.1 0M563.37 373.82a2.05 2.05 0 1 0 4.1 0a2.05 2.05 0 1 0 -4.1 0M563.37 373.40a2.05 2.05 0 1 0 4.1 0a2.05 2.05 0 1 0 -4.1 0M563.37 372.75a2.05 2.05 0 1 0 4.1 0a2.05 2.05 0 1 0 -4.1 0M563.37 372.54a2.05 2.05 0 1 0 4.1 0a2.05 2.05 0 1 0 -4.1 0M563.37 372.50a2.05 2.05 0 1 0 4.1 0a2.05 2.05 0 1 0 -4.1 0M563.37 370.75a2.05 2.05 0 1 0 4.1 0a2.05 2.05 0 1 0 -4.1 0M563.37 370.06a2.05 2.05 0 1 0 4.1 0a2.05 2.05 0 1 0 -4.1 0M563.37 369.85a2.05 2.05 0 1 0 4.1 0a2.05 2.05 0 1 0 -4.1 0M563.37 368.30a2.05 2.05 0 1 0 4.1 0a2.05 2.05 0 1 0 -4.1 0M563.37 367.33a2.05 2.05 0 1 0 4.1 0a2.05 2.05 0 1 0 -4.1 0M563.37 367.32a2.05 2.05 0 1 0 4.1 0a2.05 2.05 0 1 0 -4.1 0M563.37 366.69a2.05 2.05 0 1 0 4.1 0a2.05 2.05 0 1 0 -4.1 0M563.37 365.88a2.05 2.05 0 1 0 4.1 0a2.05 2.05 0 1 0 -4.1 0M563.37 365.83a2.05 2.05 0 1 0 4.1 0a2.05 2.05 0 1 0 -4.1 0M563.37 365.41a2.05 2.05 0 1 0 4.1 0a2.05 2.05 0 1 0 -4.1 0M563.37 364.71a2.05 2.05 0 1 0 4.1 0a2.05 2.05 0 1 0 -4.1 0M563.37 364.56a2.05 2.05 0 1 0 4.1 0a2.05 2.05 0 1 0 -4.1 0M563.37 364.24a2.05 2.05 0 1 0 4.1 0a2.05 2.05 0 1 0 -4.1 0M563.37 363.66a2.05 2.05 0 1 0 4.1 0a2.05 2.05 0 1 0 -4.1 0M563.37 362.29a2.05 2.05 0 1 0 4.1 0a2.05 2.05 0 1 0 -4.1 0M563.37 361.91a2.05 2.05 0 1 0 4.1 0a2.05 2.05 0 1 0 -4.1 0M563.37 361.72a2.05 2.05 0 1 0 4.1 0a2.05 2.05 0 1 0 -4.1 0M563.37 359.72a2.05 2.05 0 1 0 4.1 0a2.05 2.05 0 1 0 -4.1 0M563.37 359.26a2.05 2.05 0 1 0 4.1 0a2.05 2.05 0 1 0 -4.1 0M563.37 359.15a2.05 2.05 0 1 0 4.1 0a2.05 2.05 0 1 0 -4.1 0M563.37 359.04a2.05 2.05 0 1 0 4.1 0a2.05 2.05 0 1 0 -4.1 0M563.37 358.35a2.05 2.05 0 1 0 4.1 0a2.05 2.05 0 1 0 -4.1 0M563.37 358.23a2.05 2.05 0 1 0 4.1 0a2.05 2.05 0 1 0 -4.1 0M563.37 357.42a2.05 2.05 0 1 0 4.1 0a2.05 2.05 0 1 0 -4.1 0M563.37 356.61a2.05 2.05 0 1 0 4.1 0a2.05 2.05 0 1 0 -4.1 0M563.37 355.29a2.05 2.05 0 1 0 4.1 0a2.05 2.05 0 1 0 -4.1 0M563.37 353.12a2.05 2.05 0 1 0 4.1 0a2.05 2.05 0 1 0 -4.1 0M563.37 351.32a2.05 2.05 0 1 0 4.1 0a2.05 2.05 0 1 0 -4.1 0M563.37 350.28a2.05 2.05 0 1 0 4.1 0a2.05 2.05 0 1 0 -4.1 0M563.37 346.02a2.05 2.05 0 1 0 4.1 0a2.05 2.05 0 1 0 -4.1 0" fill="#ff0000"/>
<text x="504.77" y="443.20" font-size="11.6">0</text>
<text x="498.32" y="377.00" font-size="11.6">50</text>
<text x="491.87" y="310.80" font-size="11.6">100</text>
<text x="543.08" y="458.20" font-size="12.00" textLength="44.49" lengthAdjust="spacingAndGlyphs">Baseline</text>
<text x="609.43" y="458.20" font-size="12.00" textLength="54.24" lengthAdjust="spacingAndGlyphs">Follow-up</text>
<path d="M564.65 294.1H636.4M564.65 288.25V299.6M636.4 288.25V299.6" stroke="#000" stroke-width="1.8" fill="none"/>
<path d="M588.40 287.95L588.40 282.25M586.13 286.41L590.67 283.79M590.67 286.41L586.13 283.79M596.70 287.95L596.70 282.25M594.43 286.41L598.97 283.79M598.97 286.41L594.43 283.79M605.00 287.95L605.00 282.25M602.73 286.41L607.27 283.79M607.27 286.41L602.73 283.79M613.30 287.95L613.30 282.25M611.03 286.41L615.57 283.79M615.57 286.41L611.03 283.79" stroke="#000" stroke-width="1.15" stroke-linecap="round" fill="none"/>
<path d="M587.20 285.1a1.2 1.2 0 1 0 2.4 0a1.2 1.2 0 1 0 -2.4 0M595.50 285.1a1.2 1.2 0 1 0 2.4 0a1.2 1.2 0 1 0 -2.4 0M603.80 285.1a1.2 1.2 0 1 0 2.4 0a1.2 1.2 0 1 0 -2.4 0M612.10 285.1a1.2 1.2 0 1 0 2.4 0a1.2 1.2 0 1 0 -2.4 0" fill="#000"/>
<text transform="translate(483.70 439.96) rotate(-90)" x="0" y="0" font-size="15.55" textLength="138.05" lengthAdjust="spacingAndGlyphs">Total UPDRS scores</text>
<text x="470.57" y="238.70" font-size="19.80" textLength="9.39" lengthAdjust="spacingAndGlyphs">F</text>
</svg></body></html>
